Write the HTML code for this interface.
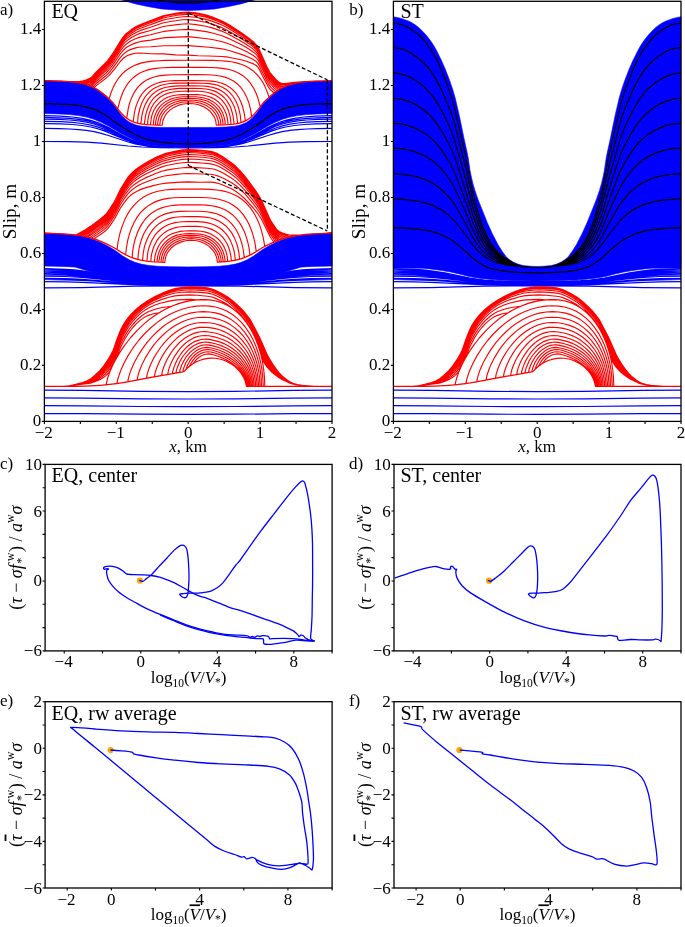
<!DOCTYPE html><html><head><meta charset="utf-8"><style>html,body{margin:0;padding:0;background:#fff;}</style></head><body><svg width="685" height="927" viewBox="0 0 685 927" style="display:block;will-change:transform;font-family:'Liberation Serif',serif">
<rect width="685" height="927" fill="#fff"/>
<path d="M44.4 413.6L82.9 413.7L141.8 414.2L188.2 414.3L234.6 414.2L293.5 413.7L332.0 413.6M44.4 405.7L82.9 405.9L141.8 406.5L188.2 406.6L234.6 406.5L293.5 405.9L332.0 405.7M44.4 397.9L82.9 398.1L141.8 398.9L188.2 399.0L234.6 398.9L293.5 398.1L332.0 397.9M44.4 390.1L82.9 390.3L141.8 391.4L188.2 391.6L234.6 391.4L293.5 390.3L332.0 390.1" fill="none" stroke="#0000ff" stroke-width="1.2" stroke-linejoin="round" />
<path d="M44.4 287.9L82.1 287.6L135.7 286.1L188.2 285.9L240.7 286.1L294.3 287.6L332.0 287.9M44.4 281.7L65.6 281.9L82.1 282.3L121.0 284.2L135.7 284.7L155.5 285.0L188.2 285.1L220.9 285.0L240.7 284.7L255.4 284.2L294.3 282.3L310.8 281.9L332.0 281.7M44.4 279.5L65.6 279.8L82.1 280.3L95.8 281.2L121.0 283.2L135.7 284.0L155.5 284.4L188.2 284.5L220.9 284.4L240.7 284.0L255.4 283.2L280.6 281.2L294.3 280.3L310.8 279.8L332.0 279.5M44.4 278.4L65.6 278.7L82.1 279.3L95.8 280.3L121.0 282.5L135.7 283.4L155.5 283.8L188.2 284.0L220.9 283.8L240.7 283.4L255.4 282.5L280.6 280.3L294.3 279.3L310.8 278.7L332.0 278.4M44.4 276.1L65.6 276.5L82.1 277.4L95.8 278.6L121.0 281.5L135.7 282.6L155.5 283.2L188.2 283.4L220.9 283.2L240.7 282.6L255.4 281.5L280.6 278.6L294.3 277.4L310.8 276.5L332.0 276.1M44.4 274.7L65.6 275.2L82.1 276.1L95.8 277.5L121.0 280.8L135.7 282.0L155.5 282.6L188.2 282.8L220.9 282.6L240.7 282.0L255.4 280.8L280.6 277.5L294.3 276.1L310.8 275.2L332.0 274.7M44.4 273.6L65.6 274.1L82.1 275.1L95.8 276.6L121.0 280.3L135.7 281.6L155.5 282.3L188.2 282.6L220.9 282.3L240.7 281.6L255.4 280.3L280.6 276.6L294.3 275.1L310.8 274.1L332.0 273.6M44.4 272.2L65.6 272.8L82.1 273.9L95.8 275.6L121.0 279.7L128.2 280.6L135.7 281.2L144.7 281.7L155.5 282.0L188.2 282.3L220.9 282.0L231.7 281.7L240.7 281.2L248.2 280.6L255.4 279.7L280.6 275.6L294.3 273.9L310.8 272.8L332.0 272.2M44.4 271.1L65.6 271.7L74.2 272.2L82.1 272.9L95.8 274.8L121.0 279.2L128.2 280.1L135.7 280.8L144.7 281.4L155.5 281.7L188.2 282.0L220.9 281.7L231.7 281.4L240.7 280.8L248.2 280.1L255.4 279.2L280.6 274.8L294.3 272.9L302.2 272.2L310.8 271.7L332.0 271.1M44.4 269.7L65.6 270.4L74.2 270.9L82.1 271.7L95.8 273.8L121.0 278.6L128.2 279.7L135.7 280.4L144.7 281.0L155.5 281.4L188.2 281.7L220.9 281.4L231.7 281.0L240.7 280.4L248.2 279.7L255.4 278.6L280.6 273.8L294.3 271.7L302.2 270.9L310.8 270.4L332.0 269.7M44.4 268.6L65.6 269.3L74.2 269.9L82.1 270.8L95.8 272.9L121.0 278.1L128.2 279.2L135.7 280.1L144.7 280.7L155.5 281.1L188.2 281.4L220.9 281.1L231.7 280.7L240.7 280.1L248.2 279.2L255.4 278.1L280.6 272.9L294.3 270.8L302.2 269.9L310.8 269.3L332.0 268.6" fill="none" stroke="#0000ff" stroke-width="1.2" stroke-linejoin="round" />
<path d="M44.4 386.4L76.4 386.4L95.1 385.7L108.8 384.5L118.1 383.4L124.9 382.3L150.8 377.4L183.9 371.7L186.8 368.6L189.6 366.1L192.9 363.8L196.5 361.7L200.1 360.2L204.0 359.1L208.0 358.4L211.9 358.1L215.2 358.3L218.0 358.7L220.9 359.3L223.8 360.2L226.7 361.4L229.5 362.9L232.1 364.5L234.6 366.4L236.7 368.3L238.9 370.5L240.7 372.8L242.5 375.5L243.9 378.1L245.0 380.7L245.7 383.0L246.4 386.4L332.0 386.4M44.4 386.4L80.0 386.3L96.2 385.6L106.2 384.8L117.4 383.5L124.9 382.3L150.8 377.4L183.9 371.7L188.6 367.0L193.2 363.5L196.1 359.8L199.0 357.2L201.1 355.9L203.7 354.7L205.8 354.2L208.3 353.9L210.8 354.1L213.4 354.7L218.0 356.2L222.4 357.9L225.9 359.6L229.2 361.5L232.4 363.6L235.3 365.9L237.8 368.2L240.3 370.9L242.1 373.3L243.9 376.2L245.0 378.4L246.1 381.4L246.4 382.9L246.8 386.4L332.0 386.4M44.4 386.4L80.0 386.3L96.2 385.6L106.2 384.8L117.4 383.5L124.9 382.3L150.8 377.4L183.9 371.7L186.8 368.6L189.6 366.0L191.1 363.2L192.9 360.4L195.0 357.8L197.2 355.8L199.7 354.1L202.6 352.7L205.1 352.0L208.0 351.7L210.8 352.0L214.1 352.8L218.4 354.2L222.7 356.0L226.3 357.7L229.5 359.6L232.8 361.9L235.7 364.2L238.2 366.6L240.7 369.5L242.5 372.0L244.3 374.9L245.4 377.2L246.4 380.2L247.2 383.4L247.5 386.4L332.0 386.4M44.4 386.4L80.0 386.3L96.2 385.6L106.2 384.8L117.4 383.5L124.9 382.3L150.8 377.4L183.9 371.7L186.0 369.4L187.5 365.3L190.0 360.7L192.2 357.7L194.7 355.0L197.5 352.7L200.8 350.9L204.0 349.9L207.6 349.5L210.5 349.8L214.4 350.8L218.8 352.2L222.7 353.8L226.3 355.5L229.9 357.7L233.1 360.0L236.0 362.4L238.5 364.8L241.0 367.7L243.2 370.7L245.0 373.9L246.4 377.1L247.5 380.6L247.9 382.3L248.2 386.4L332.0 386.4M44.4 386.4L80.0 386.3L96.2 385.6L106.2 384.8L117.4 383.5L124.9 382.3L150.8 377.4L182.8 371.9L183.2 369.8L183.9 367.4L186.0 362.5L188.9 357.9L192.2 354.1L195.7 351.1L199.3 349.0L202.9 347.8L206.9 347.4L210.1 347.7L214.4 348.7L218.8 350.0L223.1 351.7L226.7 353.5L230.3 355.6L233.5 357.9L236.7 360.7L239.2 363.2L241.8 366.2L243.9 369.3L245.7 372.5L247.2 375.7L248.2 379.1L249.0 382.6L249.3 386.4L332.0 386.4M44.4 386.4L79.6 386.3L95.8 385.7L105.5 384.9L117.4 383.5L124.9 382.3L150.5 377.5L179.6 372.4L179.9 370.3L180.7 367.8L181.7 365.0L183.2 361.9L186.0 357.2L189.6 352.8L193.6 349.4L197.5 347.0L199.7 346.0L201.9 345.4L204.0 345.0L206.2 344.9L209.4 345.1L214.1 346.1L218.8 347.5L223.1 349.2L227.0 351.1L230.6 353.3L233.9 355.6L237.1 358.4L240.0 361.3L242.5 364.4L245.0 368.1L246.8 371.5L248.2 374.9L249.3 378.5L250.0 382.2L250.4 386.4L332.0 386.4M44.4 386.4L79.6 386.3L95.8 385.7L105.2 384.9L117.0 383.5L124.6 382.4L150.5 377.5L176.0 373.1L176.3 370.8L177.4 367.2L179.9 361.4L181.7 358.2L183.5 355.5L187.5 350.8L189.6 348.7L191.8 347.0L194.0 345.6L196.5 344.2L198.6 343.4L201.1 342.6L203.3 342.3L205.8 342.1L209.1 342.4L214.4 343.5L218.8 344.7L223.1 346.4L227.0 348.3L231.0 350.7L234.6 353.3L237.8 356.1L240.7 359.2L243.6 362.8L246.1 366.7L247.9 370.2L249.3 373.8L250.4 377.4L251.1 381.1L251.5 384.7L251.8 386.4L332.0 386.4M44.4 386.4L79.3 386.3L95.4 385.7L104.4 385.0L117.0 383.5L124.6 382.4L150.1 377.6L172.4 373.7L172.7 371.4L173.8 367.6L175.3 363.9L176.7 360.8L178.5 357.5L180.7 354.2L182.8 351.4L185.0 348.9L187.1 346.8L189.6 344.7L192.2 343.0L194.7 341.6L197.2 340.6L200.1 339.7L202.6 339.3L205.5 339.1L209.1 339.4L214.8 340.6L219.5 341.9L223.8 343.6L227.7 345.6L231.7 348.0L235.3 350.7L238.9 354.0L241.8 357.2L244.6 361.0L247.2 365.1L249.0 368.7L250.8 373.5L251.8 377.6L252.6 382.1L252.9 386.4L332.0 386.4M44.4 386.4L79.3 386.3L95.4 385.7L103.7 385.0L116.7 383.6L124.2 382.5L149.7 377.6L167.7 374.5L168.4 370.6L169.5 367.1L170.9 363.5L172.7 359.7L174.9 355.8L177.1 352.6L179.6 349.2L182.1 346.4L184.6 344.0L187.5 341.6L190.0 339.9L192.9 338.3L195.7 337.1L198.6 336.2L201.5 335.7L204.7 335.5L208.7 335.8L214.4 336.9L219.1 338.2L223.8 340.0L228.1 342.1L232.1 344.6L236.0 347.6L239.6 351.0L242.5 354.3L245.4 358.1L247.9 362.3L250.0 366.8L251.8 371.7L252.9 375.7L253.6 379.7L254.3 386.4L332.0 386.4M44.4 386.4L78.9 386.3L95.1 385.7L103.0 385.1L116.7 383.6L123.8 382.5L161.6 375.5L162.3 371.6L163.4 368.0L165.2 363.5L167.3 359.0L169.9 354.6L172.4 350.8L175.3 347.1L178.1 344.0L181.0 341.2L184.2 338.6L187.5 336.5L190.7 334.8L194.0 333.4L197.5 332.4L200.8 331.8L204.4 331.6L209.1 332.0L214.8 333.0L219.5 334.3L224.1 336.1L228.5 338.3L232.8 341.1L236.7 344.2L240.3 347.7L243.9 351.9L246.8 356.1L249.3 360.6L251.5 365.4L253.3 370.7L254.3 375.1L255.1 379.6L255.8 386.4L332.0 386.4M44.4 386.4L78.2 386.4L91.9 385.9L101.6 385.2L113.1 384.0L123.1 382.6L154.4 376.8L155.1 372.8L156.6 368.2L158.4 363.7L160.9 358.5L163.8 353.6L166.6 349.3L169.9 345.2L173.5 341.3L176.7 338.3L180.3 335.4L183.9 333.0L187.8 330.9L191.8 329.3L195.7 328.1L199.7 327.4L203.7 327.2L209.1 327.6L214.4 328.4L219.5 329.8L224.1 331.6L228.8 334.0L233.1 336.8L237.1 340.0L241.0 343.9L244.3 347.8L247.5 352.5L250.4 357.8L252.6 362.7L254.3 368.1L255.8 374.2L256.5 379.0L257.2 386.4L332.0 386.4M44.4 386.4L77.8 386.4L89.0 386.0L100.1 385.4L110.2 384.3L121.7 382.9L130.7 381.3L146.5 378.2L147.2 374.2L149.0 368.5L151.2 363.3L154.0 357.6L157.3 352.2L160.5 347.5L164.5 342.6L168.4 338.4L172.4 334.8L176.7 331.5L181.0 328.7L185.3 326.5L189.6 324.8L194.3 323.5L198.6 322.8L203.3 322.5L209.1 322.8L214.8 323.7L219.8 325.1L224.9 327.1L229.5 329.5L234.2 332.7L238.2 336.1L242.1 340.2L245.7 344.8L249.0 349.8L251.8 355.5L254.0 360.8L255.8 366.5L257.2 373.0L257.9 378.0L258.7 386.4L332.0 386.4M44.4 386.4L77.1 386.4L98.0 385.5L107.0 384.7L118.8 383.3L126.7 382.0L137.2 380.1L137.5 377.6L138.2 374.7L140.0 369.3L142.5 363.4L145.8 357.1L149.4 351.2L153.7 345.2L158.0 340.0L162.7 335.2L167.3 331.1L172.4 327.3L177.4 324.2L182.4 321.7L187.5 319.8L192.9 318.3L197.9 317.5L203.3 317.2L209.4 317.5L214.8 318.4L220.2 319.8L225.2 321.8L230.3 324.6L234.9 327.9L239.2 331.7L243.2 336.0L246.8 340.8L250.0 346.1L252.9 352.0L255.4 358.5L257.2 364.6L258.7 371.3L259.4 376.4L260.1 386.4L332.0 386.4M44.4 386.4L76.8 386.4L95.8 385.7L103.0 385.1L112.0 384.1L119.9 383.1L127.8 381.8L128.2 379.4L128.9 376.4L131.0 369.9L134.3 362.6L137.9 355.9L142.2 349.1L146.9 342.7L151.9 336.9L157.3 331.5L162.7 326.8L168.1 322.9L173.8 319.5L179.6 316.7L185.3 314.5L191.4 312.9L197.2 312.0L203.3 311.6L209.8 312.0L215.5 312.9L220.9 314.4L226.3 316.7L231.3 319.6L236.0 323.1L240.3 327.2L244.6 332.2L248.6 337.9L251.8 343.6L254.7 350.0L257.2 357.1L259.0 363.9L260.5 371.7L261.2 378.1L261.5 386.4L332.0 386.4M44.4 386.4L74.6 386.4L85.4 386.1L100.5 385.3L117.0 383.5L117.4 381.0L118.1 378.1L120.6 370.7L124.2 362.7L128.5 354.9L133.2 347.7L138.6 340.5L144.3 334.0L150.5 328.0L156.6 322.9L163.0 318.3L169.5 314.5L176.0 311.5L182.8 309.0L189.6 307.2L196.5 306.1L203.3 305.8L209.8 306.1L215.5 307.0L221.3 308.7L226.7 311.0L231.7 314.0L236.7 317.9L241.4 322.4L245.7 327.7L249.7 333.6L252.9 339.6L255.8 346.1L258.3 353.3L260.5 361.6L261.9 369.4L262.6 375.5L263.3 386.4L332.0 386.4M44.4 386.4L80.0 386.3L96.2 385.6L106.2 384.8L106.6 382.3L107.7 378.0L110.5 370.1L114.5 361.6L119.2 353.4L124.6 345.4L130.7 337.5L137.2 330.4L144.0 323.9L150.8 318.3L158.0 313.4L165.2 309.3L172.7 305.8L180.3 303.1L187.8 301.2L195.4 300.0L203.3 299.6L209.8 299.9L215.9 301.0L221.6 302.7L227.4 305.3L232.8 308.7L237.8 312.8L242.5 317.6L246.8 323.1L250.8 329.2L254.3 336.1L257.6 344.0L260.1 351.7L262.3 360.7L263.7 369.5L264.4 376.6L264.8 386.4L332.0 386.4M44.4 386.4L63.1 386.4L69.2 385.9L90.1 383.1L95.4 381.4L100.8 379.1L103.4 377.6L105.9 375.6L108.0 373.5L110.2 370.9L112.7 365.3L115.6 359.6L121.0 346.5L125.6 337.8L129.2 332.2L132.8 327.5L136.4 323.6L140.4 320.1L144.0 317.6L147.9 315.6L153.3 313.8L159.1 312.7L163.8 310.0L168.8 307.5L173.5 305.5L178.5 303.6L184.6 301.9L190.7 300.7L196.8 299.9L203.3 299.6L208.7 299.8L213.7 300.5L218.8 301.7L223.4 303.4L228.1 305.7L232.4 308.4L236.4 311.5L240.3 315.2L243.9 319.3L247.2 323.6L250.0 328.0L252.9 333.2L255.4 338.5L257.9 345.0L260.1 351.7L261.9 358.8L265.1 364.2L267.3 367.3L270.9 371.2L273.8 373.8L278.8 377.5L282.0 379.5L289.6 383.1L292.5 384.0L297.1 384.9L302.5 385.6L312.9 386.3L332.0 386.4M44.4 386.4L63.5 386.4L69.9 385.8L83.2 383.8L89.3 382.7L93.3 381.3L99.0 378.6L102.3 376.5L105.2 374.2L108.0 371.2L110.5 367.9L112.3 364.9L113.8 361.9L116.7 353.8L120.6 344.1L122.8 339.7L125.6 334.6L129.2 329.0L133.2 324.0L137.2 319.7L141.5 316.0L144.7 313.8L148.3 311.8L152.2 310.2L156.9 308.7L162.3 307.5L171.7 306.2L179.9 303.2L188.2 301.1L195.7 300.0L203.3 299.6L208.7 299.8L213.7 300.5L218.4 301.6L223.1 303.3L227.7 305.5L232.1 308.2L236.0 311.2L240.0 314.9L243.2 318.4L246.4 322.6L249.3 326.8L252.2 331.8L254.7 336.9L257.2 343.0L259.0 348.2L260.8 354.4L266.2 363.9L269.1 367.8L272.3 371.4L276.6 375.2L280.2 377.9L286.3 381.3L290.3 383.2L292.8 384.0L298.2 385.0L302.9 385.6L313.3 386.3L332.0 386.4M44.4 386.4L63.5 386.4L67.0 386.1L71.0 385.6L82.9 383.6L89.0 382.2L92.6 380.8L98.0 377.8L101.2 375.6L104.4 372.8L107.7 369.3L110.2 365.9L112.0 362.9L113.4 360.0L116.7 350.8L119.9 342.7L122.1 337.9L124.9 332.6L128.5 326.9L132.1 322.1L136.1 317.6L140.0 313.9L144.3 310.6L149.0 307.8L154.4 305.3L160.2 303.3L169.1 301.1L174.5 300.1L177.4 299.9L189.6 299.4L196.8 299.9L202.6 299.6L208.0 299.8L212.6 300.3L217.0 301.2L222.0 302.8L227.0 305.1L231.7 307.9L236.4 311.5L240.0 314.9L243.6 318.8L246.8 323.1L250.0 328.0L252.6 332.5L255.1 337.7L257.2 343.0L259.4 349.1L265.5 360.5L267.6 364.0L270.5 367.9L273.4 371.1L278.4 375.8L282.4 378.7L287.8 381.8L291.0 383.3L293.9 384.1L299.3 385.2L303.2 385.6L313.7 386.3L332.0 386.4M44.4 386.4L63.5 386.4L69.9 385.7L81.4 383.7L86.5 382.5L90.8 381.0L95.1 378.6L99.0 375.9L102.6 372.9L106.2 369.1L109.5 364.9L111.6 361.3L113.4 357.7L116.7 348.3L119.5 340.9L121.7 336.1L124.6 330.7L127.8 325.4L131.4 320.5L135.4 316.0L139.7 311.8L144.3 308.1L149.0 305.1L155.1 302.0L161.2 299.6L169.9 297.0L174.9 295.9L179.9 295.4L189.6 294.9L197.2 295.3L207.6 296.2L210.8 296.8L214.4 297.9L219.8 300.2L225.9 303.5L228.8 305.5L237.5 312.5L240.7 315.6L243.9 319.3L246.8 323.1L249.7 327.4L252.9 333.2L256.5 341.1L261.5 350.5L265.9 359.2L269.4 364.9L272.7 369.1L277.0 373.7L280.6 376.9L284.2 379.4L288.1 381.8L291.4 383.3L295.0 384.3L300.0 385.2L306.1 385.9L314.0 386.3L332.0 386.4M44.4 386.4L63.1 386.4L69.6 385.8L80.7 383.6L84.3 382.8L89.3 381.1L93.3 378.9L98.3 375.3L101.9 372.1L105.5 368.2L109.1 363.4L111.3 359.9L113.4 355.5L116.7 346.0L119.2 339.5L121.3 334.5L123.8 329.7L127.1 324.3L130.3 319.9L134.3 315.2L138.6 311.0L143.6 306.8L148.7 303.4L154.8 300.1L161.2 297.3L170.2 294.3L175.3 293.0L182.1 292.3L189.6 291.9L196.8 292.1L205.8 292.9L209.4 293.4L212.6 294.3L218.0 296.5L224.9 300.2L228.5 302.6L232.1 305.6L236.4 309.9L241.4 315.5L245.7 320.9L249.7 326.5L252.6 331.4L258.7 342.7L261.9 349.0L266.2 358.1L268.4 361.8L270.9 365.6L274.1 369.7L278.8 374.7L281.7 377.2L285.6 380.0L289.2 382.1L292.1 383.4L296.4 384.5L300.7 385.3L314.0 386.3L332.0 386.4M44.4 386.4L63.1 386.4L69.2 385.8L80.3 383.6L83.6 382.8L89.0 380.8L92.2 379.0L97.6 375.0L101.2 371.7L105.2 367.2L108.8 362.3L111.3 358.1L113.4 353.7L116.7 344.1L119.2 337.6L121.3 332.6L123.5 328.5L126.7 323.2L130.0 318.7L133.6 314.5L137.9 310.3L143.3 305.8L148.7 302.2L155.5 298.4L162.0 295.5L170.6 292.4L175.6 291.1L183.5 290.2L190.7 289.8L198.3 290.1L207.3 291.0L210.1 291.5L213.0 292.4L218.4 294.7L225.6 298.7L229.5 301.6L233.5 305.0L238.5 310.2L242.5 314.6L246.4 319.6L250.0 324.7L252.9 329.7L258.7 340.6L261.9 347.1L266.6 357.2L269.1 361.5L271.6 365.4L275.2 370.0L279.2 374.4L282.0 377.0L286.3 380.2L289.6 382.2L292.1 383.3L296.4 384.5L301.1 385.3L307.9 386.0L314.4 386.4L332.0 386.4M44.4 386.4L63.1 386.4L69.2 385.8L75.0 384.7L82.9 382.8L87.9 380.9L91.5 379.0L95.8 375.7L100.5 371.4L104.4 366.9L108.4 361.5L110.9 357.3L113.4 352.1L116.3 343.6L118.8 336.9L121.0 331.8L123.1 327.6L126.0 322.8L129.2 318.3L132.8 314.1L137.2 309.9L142.9 305.1L148.7 301.2L155.8 297.2L162.7 294.1L170.9 291.0L176.0 289.6L184.6 288.6L191.4 288.3L198.6 288.6L207.3 289.4L210.1 290.0L213.4 291.0L218.8 293.5L225.9 297.5L229.9 300.4L234.6 304.6L239.6 309.7L243.2 313.7L247.2 318.7L250.4 323.4L253.3 328.5L259.0 339.5L261.9 345.5L266.6 355.9L269.4 361.0L272.0 364.9L275.9 370.2L279.5 374.3L282.0 376.6L286.7 380.2L289.9 382.2L292.5 383.3L297.1 384.6L301.4 385.4L314.4 386.4L332.0 386.4M44.4 386.4L63.1 386.3L69.2 385.8L75.0 384.6L82.5 382.8L87.5 380.9L91.1 378.9L95.4 375.5L100.5 370.7L104.4 366.0L108.4 360.4L111.3 355.5L113.4 351.0L116.3 342.4L118.5 336.6L120.6 331.4L122.8 327.1L125.6 322.3L128.5 318.3L132.1 314.1L136.1 310.2L141.8 305.4L147.9 301.1L155.5 296.8L162.3 293.6L170.6 290.5L175.6 289.0L183.9 287.9L191.4 287.5L198.6 287.8L207.3 288.7L210.5 289.3L213.7 290.4L219.5 293.1L226.7 297.2L231.0 300.5L236.0 305.0L240.7 309.8L244.3 313.8L247.9 318.4L250.8 322.7L253.6 327.8L259.0 338.3L261.9 344.3L266.6 354.9L269.4 360.1L272.3 364.7L276.3 370.1L279.9 374.3L282.4 376.7L287.1 380.3L289.9 382.1L292.5 383.3L297.1 384.5L301.4 385.3L314.4 386.4L332.0 386.4M44.4 386.4L63.1 386.3L69.2 385.7L75.3 384.5L82.5 382.7L87.2 380.9L90.8 378.9L94.7 375.8L99.8 370.9L103.7 366.3L108.0 360.2L110.5 356.0L113.1 350.9L114.1 348.1L116.3 341.5L118.5 335.7L120.6 330.6L122.4 327.0L125.3 322.1L128.2 318.1L131.4 314.3L135.4 310.3L141.5 305.3L147.6 301.0L155.5 296.5L162.7 293.1L170.9 289.9L176.0 288.5L184.6 287.4L191.8 287.0L199.0 287.3L207.6 288.2L211.2 289.0L214.8 290.3L220.9 293.3L227.7 297.4L232.8 301.3L238.9 307.0L242.5 310.7L246.1 314.9L249.3 319.3L251.5 322.7L259.4 337.8L266.6 353.9L269.4 359.3L272.3 364.1L276.3 369.6L279.9 373.9L282.4 376.4L287.4 380.4L290.3 382.2L292.8 383.3L297.5 384.6L301.8 385.4L314.4 386.4L332.0 386.4M44.4 386.4L63.1 386.3L69.6 385.7L75.7 384.4L82.5 382.6L87.2 380.8L90.8 378.7L94.7 375.5L99.8 370.6L103.7 365.8L108.0 359.7L110.5 355.4L113.1 350.3L114.1 347.6L116.3 340.9L118.5 335.2L120.6 330.0L122.4 326.4L125.3 321.6L128.2 317.6L131.4 313.9L135.0 310.3L141.1 305.3L147.6 300.8L155.5 296.3L162.7 292.9L170.9 289.7L176.0 288.2L184.6 287.1L191.8 286.8L199.0 287.1L207.6 287.9L211.2 288.7L214.8 290.1L221.3 293.3L225.6 295.7L228.1 297.3L233.5 301.5L240.0 307.5L243.6 311.2L246.8 315.0L249.7 318.9L251.8 322.4L259.4 336.9L266.9 353.9L269.8 359.4L272.7 364.1L276.6 369.7L280.2 374.0L283.1 376.8L287.8 380.5L290.3 382.1L292.8 383.3L297.5 384.6L301.8 385.4L314.4 386.4L332.0 386.4" fill="none" stroke="#ff0000" stroke-width="1.15" stroke-linejoin="round" />
<path d="M393.4 413.6L431.9 413.7L490.8 414.2L537.2 414.3L583.6 414.2L642.5 413.7L681.0 413.6M393.4 405.7L431.9 405.9L490.8 406.5L537.2 406.6L583.6 406.5L642.5 405.9L681.0 405.7M393.4 397.9L431.9 398.1L490.8 398.9L537.2 399.0L583.6 398.9L642.5 398.1L681.0 397.9M393.4 390.1L431.9 390.3L490.8 391.4L537.2 391.6L583.6 391.4L642.5 390.3L681.0 390.1" fill="none" stroke="#0000ff" stroke-width="1.2" stroke-linejoin="round" />
<path d="M393.4 287.9L431.1 287.6L484.7 286.1L537.2 285.9L589.7 286.1L643.3 287.6L681.0 287.9M393.4 281.7L414.6 281.9L431.1 282.3L470.0 284.2L484.7 284.7L504.5 285.0L537.2 285.1L569.9 285.0L589.7 284.7L604.4 284.2L643.3 282.3L659.8 281.9L681.0 281.7M393.4 279.5L414.6 279.8L431.1 280.3L444.8 281.2L470.0 283.2L484.7 284.0L504.5 284.4L537.2 284.5L569.9 284.4L589.7 284.0L604.4 283.2L629.6 281.2L643.3 280.3L659.8 279.8L681.0 279.5M393.4 278.4L414.6 278.7L431.1 279.3L444.8 280.3L470.0 282.5L484.7 283.4L504.5 283.8L537.2 284.0L569.9 283.8L589.7 283.4L604.4 282.5L629.6 280.3L643.3 279.3L659.8 278.7L681.0 278.4M393.4 276.1L414.6 276.5L431.1 277.4L444.8 278.6L470.0 281.5L484.7 282.6L504.5 283.2L537.2 283.4L569.9 283.2L589.7 282.6L604.4 281.5L629.6 278.6L643.3 277.4L659.8 276.5L681.0 276.1M393.4 274.7L414.6 275.2L431.1 276.1L444.8 277.5L470.0 280.8L484.7 282.0L504.5 282.6L537.2 282.8L569.9 282.6L589.7 282.0L604.4 280.8L629.6 277.5L643.3 276.1L659.8 275.2L681.0 274.7M393.4 273.6L414.6 274.1L431.1 275.1L444.8 276.6L470.0 280.3L484.7 281.6L504.5 282.3L537.2 282.6L569.9 282.3L589.7 281.6L604.4 280.3L629.6 276.6L643.3 275.1L659.8 274.1L681.0 273.6M393.4 272.2L414.6 272.8L431.1 273.9L444.8 275.6L470.0 279.7L477.2 280.6L484.7 281.2L493.7 281.7L504.5 282.0L537.2 282.3L569.9 282.0L580.7 281.7L589.7 281.2L597.2 280.6L604.4 279.7L629.6 275.6L643.3 273.9L659.8 272.8L681.0 272.2M393.4 271.1L414.6 271.7L423.2 272.2L431.1 272.9L444.8 274.8L470.0 279.2L477.2 280.1L484.7 280.8L493.7 281.4L504.5 281.7L537.2 282.0L569.9 281.7L580.7 281.4L589.7 280.8L597.2 280.1L604.4 279.2L629.6 274.8L643.3 272.9L651.2 272.2L659.8 271.7L681.0 271.1M393.4 269.7L414.6 270.4L423.2 270.9L431.1 271.7L444.8 273.8L470.0 278.6L477.2 279.7L484.7 280.4L493.7 281.0L504.5 281.4L537.2 281.7L569.9 281.4L580.7 281.0L589.7 280.4L597.2 279.7L604.4 278.6L629.6 273.8L643.3 271.7L651.2 270.9L659.8 270.4L681.0 269.7M393.4 268.6L414.6 269.3L423.2 269.9L431.1 270.8L444.8 272.9L470.0 278.1L477.2 279.2L484.7 280.1L493.7 280.7L504.5 281.1L537.2 281.4L569.9 281.1L580.7 280.7L589.7 280.1L597.2 279.2L604.4 278.1L629.6 272.9L643.3 270.8L651.2 269.9L659.8 269.3L681.0 268.6" fill="none" stroke="#0000ff" stroke-width="1.2" stroke-linejoin="round" />
<path d="M393.4 386.4L425.4 386.4L444.1 385.7L457.8 384.5L467.1 383.4L473.9 382.3L499.8 377.4L532.9 371.7L535.8 368.6L538.6 366.1L541.9 363.8L545.5 361.7L549.1 360.2L553.0 359.1L557.0 358.4L560.9 358.1L564.2 358.3L567.0 358.7L569.9 359.3L572.8 360.2L575.7 361.4L578.5 362.9L581.1 364.5L583.6 366.4L585.7 368.3L587.9 370.5L589.7 372.8L591.5 375.5L592.9 378.1L594.0 380.7L594.7 383.0L595.4 386.4L681.0 386.4M393.4 386.4L429.0 386.3L445.2 385.6L455.2 384.8L466.4 383.5L473.9 382.3L499.8 377.4L532.9 371.7L537.6 367.0L542.2 363.5L545.1 359.8L548.0 357.2L550.1 355.9L552.7 354.7L554.8 354.2L557.3 353.9L559.8 354.1L562.4 354.7L567.0 356.2L571.4 357.9L574.9 359.6L578.2 361.5L581.4 363.6L584.3 365.9L586.8 368.2L589.3 370.9L591.1 373.3L592.9 376.2L594.0 378.4L595.1 381.4L595.4 382.9L595.8 386.4L681.0 386.4M393.4 386.4L429.0 386.3L445.2 385.6L455.2 384.8L466.4 383.5L473.9 382.3L499.8 377.4L532.9 371.7L535.8 368.6L538.6 366.0L540.1 363.2L541.9 360.4L544.0 357.8L546.2 355.8L548.7 354.1L551.6 352.7L554.1 352.0L557.0 351.7L559.8 352.0L563.1 352.8L567.4 354.2L571.7 356.0L575.3 357.7L578.5 359.6L581.8 361.9L584.7 364.2L587.2 366.6L589.7 369.5L591.5 372.0L593.3 374.9L594.4 377.2L595.4 380.2L596.2 383.4L596.5 386.4L681.0 386.4M393.4 386.4L429.0 386.3L445.2 385.6L455.2 384.8L466.4 383.5L473.9 382.3L499.8 377.4L532.9 371.7L535.0 369.4L536.5 365.3L539.0 360.7L541.2 357.7L543.7 355.0L546.5 352.7L549.8 350.9L553.0 349.9L556.6 349.5L559.5 349.8L563.4 350.8L567.8 352.2L571.7 353.8L575.3 355.5L578.9 357.7L582.1 360.0L585.0 362.4L587.5 364.8L590.0 367.7L592.2 370.7L594.0 373.9L595.4 377.1L596.5 380.6L596.9 382.3L597.2 386.4L681.0 386.4M393.4 386.4L429.0 386.3L445.2 385.6L455.2 384.8L466.4 383.5L473.9 382.3L499.8 377.4L531.8 371.9L532.2 369.8L532.9 367.4L535.0 362.5L537.9 357.9L541.2 354.1L544.7 351.1L548.3 349.0L551.9 347.8L555.9 347.4L559.1 347.7L563.4 348.7L567.8 350.0L572.1 351.7L575.7 353.5L579.3 355.6L582.5 357.9L585.7 360.7L588.2 363.2L590.8 366.2L592.9 369.3L594.7 372.5L596.2 375.7L597.2 379.1L598.0 382.6L598.3 386.4L681.0 386.4M393.4 386.4L428.6 386.3L444.8 385.7L454.5 384.9L466.4 383.5L473.9 382.3L499.5 377.5L528.6 372.4L528.9 370.3L529.7 367.8L530.7 365.0L532.2 361.9L535.0 357.2L538.6 352.8L542.6 349.4L546.5 347.0L548.7 346.0L550.9 345.4L553.0 345.0L555.2 344.9L558.4 345.1L563.1 346.1L567.8 347.5L572.1 349.2L576.0 351.1L579.6 353.3L582.9 355.6L586.1 358.4L589.0 361.3L591.5 364.4L594.0 368.1L595.8 371.5L597.2 374.9L598.3 378.5L599.0 382.2L599.4 386.4L681.0 386.4M393.4 386.4L428.6 386.3L444.8 385.7L454.2 384.9L466.0 383.5L473.6 382.4L499.5 377.5L525.0 373.1L525.3 370.8L526.4 367.2L528.9 361.4L530.7 358.2L532.5 355.5L536.5 350.8L538.6 348.7L540.8 347.0L543.0 345.6L545.5 344.2L547.6 343.4L550.1 342.6L552.3 342.3L554.8 342.1L558.1 342.4L563.4 343.5L567.8 344.7L572.1 346.4L576.0 348.3L580.0 350.7L583.6 353.3L586.8 356.1L589.7 359.2L592.6 362.8L595.1 366.7L596.9 370.2L598.3 373.8L599.4 377.4L600.1 381.1L600.5 384.7L600.8 386.4L681.0 386.4M393.4 386.4L428.3 386.3L444.4 385.7L453.4 385.0L466.0 383.5L473.6 382.4L499.1 377.6L521.4 373.7L521.7 371.4L522.8 367.6L524.3 363.9L525.7 360.8L527.5 357.5L529.7 354.2L531.8 351.4L534.0 348.9L536.1 346.8L538.6 344.7L541.2 343.0L543.7 341.6L546.2 340.6L549.1 339.7L551.6 339.3L554.5 339.1L558.1 339.4L563.8 340.6L568.5 341.9L572.8 343.6L576.7 345.6L580.7 348.0L584.3 350.7L587.9 354.0L590.8 357.2L593.6 361.0L596.2 365.1L598.0 368.7L599.8 373.5L600.8 377.6L601.6 382.1L601.9 386.4L681.0 386.4M393.4 386.4L428.3 386.3L444.4 385.7L452.7 385.0L465.7 383.6L473.2 382.5L498.7 377.6L516.7 374.5L517.4 370.6L518.5 367.1L519.9 363.5L521.7 359.7L523.9 355.8L526.1 352.6L528.6 349.2L531.1 346.4L533.6 344.0L536.5 341.6L539.0 339.9L541.9 338.3L544.7 337.1L547.6 336.2L550.5 335.7L553.7 335.5L557.7 335.8L563.4 336.9L568.1 338.2L572.8 340.0L577.1 342.1L581.1 344.6L585.0 347.6L588.6 351.0L591.5 354.3L594.4 358.1L596.9 362.3L599.0 366.8L600.8 371.7L601.9 375.7L602.6 379.7L603.3 386.4L681.0 386.4M393.4 386.4L427.9 386.3L444.1 385.7L452.0 385.1L465.7 383.6L472.8 382.5L510.6 375.5L511.3 371.6L512.4 368.0L514.2 363.5L516.3 359.0L518.9 354.6L521.4 350.8L524.3 347.1L527.1 344.0L530.0 341.2L533.2 338.6L536.5 336.5L539.7 334.8L543.0 333.4L546.5 332.4L549.8 331.8L553.4 331.6L558.1 332.0L563.8 333.0L568.5 334.3L573.2 336.1L577.5 338.3L581.8 341.1L585.7 344.2L589.3 347.7L592.9 351.9L595.8 356.1L598.3 360.6L600.5 365.4L602.3 370.7L603.3 375.1L604.1 379.6L604.8 386.4L681.0 386.4M393.4 386.4L427.2 386.4L440.9 385.9L450.6 385.2L462.1 384.0L472.1 382.6L503.4 376.8L504.1 372.8L505.6 368.2L507.4 363.7L509.9 358.5L512.8 353.6L515.6 349.3L518.9 345.2L522.5 341.3L525.7 338.3L529.3 335.4L532.9 333.0L536.8 330.9L540.8 329.3L544.7 328.1L548.7 327.4L552.7 327.2L558.1 327.6L563.4 328.4L568.5 329.8L573.2 331.6L577.8 334.0L582.1 336.8L586.1 340.0L590.0 343.9L593.3 347.8L596.5 352.5L599.4 357.8L601.6 362.7L603.3 368.1L604.8 374.2L605.5 379.0L606.2 386.4L681.0 386.4M393.4 386.4L426.8 386.4L438.0 386.0L449.1 385.4L459.2 384.3L470.7 382.9L479.7 381.3L495.5 378.2L496.2 374.2L498.0 368.5L500.2 363.3L503.0 357.6L506.3 352.2L509.5 347.5L513.5 342.6L517.4 338.4L521.4 334.8L525.7 331.5L530.0 328.7L534.3 326.5L538.6 324.8L543.3 323.5L547.6 322.8L552.3 322.5L558.1 322.8L563.8 323.7L568.8 325.1L573.9 327.1L578.5 329.5L583.2 332.7L587.2 336.1L591.1 340.2L594.7 344.8L598.0 349.8L600.8 355.5L603.0 360.8L604.8 366.5L606.2 373.0L606.9 378.0L607.7 386.4L681.0 386.4M393.4 386.4L426.1 386.4L447.0 385.5L456.0 384.7L467.8 383.3L475.7 382.0L486.2 380.1L486.5 377.6L487.2 374.7L489.0 369.3L491.5 363.4L494.8 357.1L498.4 351.2L502.7 345.2L507.0 340.0L511.7 335.2L516.3 331.1L521.4 327.3L526.4 324.2L531.4 321.7L536.5 319.8L541.9 318.3L546.9 317.5L552.3 317.2L558.4 317.5L563.8 318.4L569.2 319.8L574.2 321.8L579.3 324.6L583.9 327.9L588.2 331.7L592.2 336.0L595.8 340.8L599.0 346.1L601.9 352.0L604.4 358.5L606.2 364.6L607.7 371.3L608.4 376.4L609.1 386.4L681.0 386.4M393.4 386.4L425.8 386.4L444.8 385.7L452.0 385.1L461.0 384.1L468.9 383.1L476.8 381.8L477.2 379.4L477.9 376.4L480.0 369.9L483.3 362.6L486.9 355.9L491.2 349.1L495.9 342.7L500.9 336.9L506.3 331.5L511.7 326.8L517.1 322.9L522.8 319.5L528.6 316.7L534.3 314.5L540.4 312.9L546.2 312.0L552.3 311.6L558.8 312.0L564.5 312.9L569.9 314.4L575.3 316.7L580.3 319.6L585.0 323.1L589.3 327.2L593.6 332.2L597.6 337.9L600.8 343.6L603.7 350.0L606.2 357.1L608.0 363.9L609.5 371.7L610.2 378.1L610.5 386.4L681.0 386.4M393.4 386.4L423.6 386.4L434.4 386.1L449.5 385.3L466.0 383.5L466.4 381.0L467.1 378.1L469.6 370.7L473.2 362.7L477.5 354.9L482.2 347.7L487.6 340.5L493.3 334.0L499.5 328.0L505.6 322.9L512.0 318.3L518.5 314.5L525.0 311.5L531.8 309.0L538.6 307.2L545.5 306.1L552.3 305.8L558.8 306.1L564.5 307.0L570.3 308.7L575.7 311.0L580.7 314.0L585.7 317.9L590.4 322.4L594.7 327.7L598.7 333.6L601.9 339.6L604.8 346.1L607.3 353.3L609.5 361.6L610.9 369.4L611.6 375.5L612.3 386.4L681.0 386.4M393.4 386.4L429.0 386.3L445.2 385.6L455.2 384.8L455.6 382.3L456.7 378.0L459.5 370.1L463.5 361.6L468.2 353.4L473.6 345.4L479.7 337.5L486.2 330.4L493.0 323.9L499.8 318.3L507.0 313.4L514.2 309.3L521.7 305.8L529.3 303.1L536.8 301.2L544.4 300.0L552.3 299.6L558.8 299.9L564.9 301.0L570.6 302.7L576.4 305.3L581.8 308.7L586.8 312.8L591.5 317.6L595.8 323.1L599.8 329.2L603.3 336.1L606.6 344.0L609.1 351.7L611.3 360.7L612.7 369.5L613.4 376.6L613.8 386.4L681.0 386.4M393.4 386.4L412.1 386.4L418.2 385.9L439.1 383.1L444.4 381.4L449.8 379.1L452.4 377.6L454.9 375.6L457.0 373.5L459.2 370.9L461.7 365.3L464.6 359.6L470.0 346.5L474.6 337.8L478.2 332.2L481.8 327.5L485.4 323.6L489.4 320.1L493.0 317.6L496.9 315.6L502.3 313.8L508.1 312.7L512.8 310.0L517.8 307.5L522.5 305.5L527.5 303.6L533.6 301.9L539.7 300.7L545.8 299.9L552.3 299.6L557.7 299.8L562.7 300.5L567.8 301.7L572.4 303.4L577.1 305.7L581.4 308.4L585.4 311.5L589.3 315.2L592.9 319.3L596.2 323.6L599.0 328.0L601.9 333.2L604.4 338.5L606.9 345.0L609.1 351.7L610.9 358.8L614.1 364.2L616.3 367.3L619.9 371.2L622.8 373.8L627.8 377.5L631.0 379.5L638.6 383.1L641.5 384.0L646.1 384.9L651.5 385.6L661.9 386.3L681.0 386.4M393.4 386.4L412.5 386.4L418.9 385.8L432.2 383.8L438.3 382.7L442.3 381.3L448.0 378.6L451.3 376.5L454.2 374.2L457.0 371.2L459.5 367.9L461.3 364.9L462.8 361.9L465.7 353.8L469.6 344.1L471.8 339.7L474.6 334.6L478.2 329.0L482.2 324.0L486.2 319.7L490.5 316.0L493.7 313.8L497.3 311.8L501.3 310.2L505.9 308.7L511.3 307.5L520.7 306.2L528.9 303.2L537.2 301.1L544.7 300.0L552.3 299.6L557.7 299.8L562.7 300.5L567.4 301.6L572.1 303.3L576.7 305.5L581.1 308.2L585.0 311.2L589.0 314.9L592.2 318.4L595.4 322.6L598.3 326.8L601.2 331.8L603.7 336.9L606.2 343.0L608.0 348.2L609.8 354.4L615.2 363.9L618.1 367.8L621.3 371.4L625.6 375.2L629.2 377.9L635.3 381.3L639.3 383.2L641.8 384.0L647.2 385.0L651.9 385.6L662.3 386.3L681.0 386.4M393.4 386.4L412.5 386.4L416.0 386.1L420.0 385.6L431.9 383.6L438.0 382.2L441.6 380.8L447.0 377.8L450.2 375.6L453.4 372.8L456.7 369.3L459.2 365.9L461.0 362.9L462.4 360.0L465.7 350.8L468.9 342.7L471.1 337.9L473.9 332.6L477.5 326.9L481.1 322.1L485.1 317.6L489.0 313.9L493.3 310.6L498.0 307.8L503.4 305.3L509.2 303.3L518.1 301.1L523.5 300.1L526.4 299.9L538.6 299.4L545.8 299.9L551.6 299.6L557.0 299.8L561.6 300.3L566.0 301.2L571.0 302.8L576.0 305.1L580.7 307.9L585.4 311.5L589.0 314.9L592.6 318.8L595.8 323.1L599.0 328.0L601.6 332.5L604.1 337.7L606.2 343.0L608.4 349.1L614.5 360.5L616.6 364.0L619.5 367.9L622.4 371.1L627.4 375.8L631.4 378.7L636.8 381.8L640.0 383.3L642.9 384.1L648.3 385.2L652.2 385.6L662.7 386.3L681.0 386.4M393.4 386.4L412.5 386.4L418.9 385.7L430.4 383.7L435.5 382.5L439.8 381.0L444.1 378.6L448.0 375.9L451.6 372.9L455.2 369.1L458.5 364.9L460.6 361.3L462.4 357.7L465.7 348.3L468.5 340.9L470.7 336.1L473.6 330.7L476.8 325.4L480.4 320.5L484.4 316.0L488.7 311.8L493.3 308.1L498.0 305.1L504.1 302.0L510.2 299.6L518.9 297.0L523.9 295.9L528.9 295.4L538.6 294.9L546.2 295.3L556.6 296.2L559.8 296.8L563.4 297.9L568.8 300.2L574.9 303.5L577.8 305.5L586.5 312.5L589.7 315.6L592.9 319.3L595.8 323.1L598.7 327.4L601.9 333.2L605.5 341.1L610.5 350.5L614.9 359.2L618.4 364.9L621.7 369.1L626.0 373.7L629.6 376.9L633.2 379.4L637.1 381.8L640.4 383.3L644.0 384.3L649.0 385.2L655.1 385.9L663.0 386.3L681.0 386.4M393.4 386.4L412.1 386.4L418.6 385.8L429.7 383.6L433.3 382.8L438.3 381.1L442.3 378.9L447.3 375.3L450.9 372.1L454.5 368.2L458.1 363.4L460.3 359.9L462.4 355.5L465.7 346.0L468.2 339.5L470.3 334.5L472.8 329.7L476.1 324.3L479.3 319.9L483.3 315.2L487.6 311.0L492.6 306.8L497.7 303.4L503.8 300.1L510.2 297.3L519.2 294.3L524.3 293.0L531.1 292.3L538.6 291.9L545.8 292.1L554.8 292.9L558.4 293.4L561.6 294.3L567.0 296.5L573.9 300.2L577.5 302.6L581.1 305.6L585.4 309.9L590.4 315.5L594.7 320.9L598.7 326.5L601.6 331.4L607.7 342.7L610.9 349.0L615.2 358.1L617.4 361.8L619.9 365.6L623.1 369.7L627.8 374.7L630.7 377.2L634.6 380.0L638.2 382.1L641.1 383.4L645.4 384.5L649.7 385.3L663.0 386.3L681.0 386.4M393.4 386.4L412.1 386.4L418.2 385.8L429.4 383.6L432.6 382.8L438.0 380.8L441.2 379.0L446.6 375.0L450.2 371.7L454.2 367.2L457.8 362.3L460.3 358.1L462.4 353.7L465.7 344.1L468.2 337.6L470.3 332.6L472.5 328.5L475.7 323.2L479.0 318.7L482.6 314.5L486.9 310.3L492.3 305.8L497.7 302.2L504.5 298.4L511.0 295.5L519.6 292.4L524.6 291.1L532.5 290.2L539.7 289.8L547.3 290.1L556.3 291.0L559.1 291.5L562.0 292.4L567.4 294.7L574.6 298.7L578.5 301.6L582.5 305.0L587.5 310.2L591.5 314.6L595.4 319.6L599.0 324.7L601.9 329.7L607.7 340.6L610.9 347.1L615.6 357.2L618.1 361.5L620.6 365.4L624.2 370.0L628.2 374.4L631.0 377.0L635.3 380.2L638.6 382.2L641.1 383.3L645.4 384.5L650.1 385.3L656.9 386.0L663.4 386.4L681.0 386.4M393.4 386.4L412.1 386.4L418.2 385.8L424.0 384.7L431.9 382.8L436.9 380.9L440.5 379.0L444.8 375.7L449.5 371.4L453.4 366.9L457.4 361.5L459.9 357.3L462.4 352.1L465.3 343.6L467.8 336.9L470.0 331.8L472.1 327.6L475.0 322.8L478.2 318.3L481.8 314.1L486.2 309.9L491.9 305.1L497.7 301.2L504.8 297.2L511.7 294.1L519.9 291.0L525.0 289.6L533.6 288.6L540.4 288.3L547.6 288.6L556.3 289.4L559.1 290.0L562.4 291.0L567.8 293.5L574.9 297.5L578.9 300.4L583.6 304.6L588.6 309.7L592.2 313.7L596.2 318.7L599.4 323.4L602.3 328.5L608.0 339.5L610.9 345.5L615.6 355.9L618.4 361.0L621.0 364.9L624.9 370.2L628.5 374.3L631.0 376.6L635.7 380.2L638.9 382.2L641.5 383.3L646.1 384.6L650.4 385.4L663.4 386.4L681.0 386.4M393.4 386.4L412.1 386.3L418.2 385.8L424.0 384.6L431.5 382.8L436.5 380.9L440.1 378.9L444.4 375.5L449.5 370.7L453.4 366.0L457.4 360.4L460.3 355.5L462.4 351.0L465.3 342.4L467.5 336.6L469.6 331.4L471.8 327.1L474.6 322.3L477.5 318.3L481.1 314.1L485.1 310.2L490.8 305.4L496.9 301.1L504.5 296.8L511.3 293.6L519.6 290.5L524.6 289.0L532.9 287.9L540.4 287.5L547.6 287.8L556.3 288.7L559.5 289.3L562.7 290.4L568.5 293.1L575.7 297.2L580.0 300.5L585.0 305.0L589.7 309.8L593.3 313.8L596.9 318.4L599.8 322.7L602.6 327.8L608.0 338.3L610.9 344.3L615.6 354.9L618.4 360.1L621.3 364.7L625.3 370.1L628.9 374.3L631.4 376.7L636.1 380.3L638.9 382.1L641.5 383.3L646.1 384.5L650.4 385.3L663.4 386.4L681.0 386.4M393.4 386.4L412.1 386.3L418.2 385.7L424.3 384.5L431.5 382.7L436.2 380.9L439.8 378.9L443.7 375.8L448.8 370.9L452.7 366.3L457.0 360.2L459.5 356.0L462.1 350.9L463.1 348.1L465.3 341.5L467.5 335.7L469.6 330.6L471.4 327.0L474.3 322.1L477.2 318.1L480.4 314.3L484.4 310.3L490.5 305.3L496.6 301.0L504.5 296.5L511.7 293.1L519.9 289.9L525.0 288.5L533.6 287.4L540.8 287.0L548.0 287.3L556.6 288.2L560.2 289.0L563.8 290.3L569.9 293.3L576.7 297.4L581.8 301.3L587.9 307.0L591.5 310.7L595.1 314.9L598.3 319.3L600.5 322.7L608.4 337.8L615.6 353.9L618.4 359.3L621.3 364.1L625.3 369.6L628.9 373.9L631.4 376.4L636.4 380.4L639.3 382.2L641.8 383.3L646.5 384.6L650.8 385.4L663.4 386.4L681.0 386.4M393.4 386.4L412.1 386.3L418.6 385.7L424.7 384.4L431.5 382.6L436.2 380.8L439.8 378.7L443.7 375.5L448.8 370.6L452.7 365.8L457.0 359.7L459.5 355.4L462.1 350.3L463.1 347.6L465.3 340.9L467.5 335.2L469.6 330.0L471.4 326.4L474.3 321.6L477.2 317.6L480.4 313.9L484.0 310.3L490.1 305.3L496.6 300.8L504.5 296.3L511.7 292.9L519.9 289.7L525.0 288.2L533.6 287.1L540.8 286.8L548.0 287.1L556.6 287.9L560.2 288.7L563.8 290.1L570.3 293.3L574.6 295.7L577.1 297.3L582.5 301.5L589.0 307.5L592.6 311.2L595.8 315.0L598.7 318.9L600.8 322.4L608.4 336.9L615.9 353.9L618.8 359.4L621.7 364.1L625.6 369.7L629.2 374.0L632.1 376.8L636.8 380.5L639.3 382.1L641.8 383.3L646.5 384.6L650.8 385.4L663.4 386.4L681.0 386.4" fill="none" stroke="#ff0000" stroke-width="1.15" stroke-linejoin="round" />
<path d="M393.4 16.8L397.0 17.4L401.3 18.5L408.1 20.9L411.0 22.3L413.9 24.0L416.4 25.7L418.9 27.7L422.5 31.2L425.8 34.7L428.6 38.2L431.1 41.6L433.7 45.5L436.2 49.9L441.2 59.9L445.2 69.0L449.8 80.9L452.7 89.4L455.2 98.1L459.5 116.4L463.9 138.0L467.1 152.4L468.2 158.1L470.0 170.3L471.1 175.7L472.8 183.2L475.0 190.7L478.2 199.9L487.2 222.4L492.3 233.7L498.0 244.7L502.3 251.5L505.9 256.4L507.4 257.9L509.2 259.4L513.1 262.1L517.8 264.1L522.8 265.5L530.0 266.2L537.2 266.5L544.4 266.2L551.6 265.5L556.6 264.1L561.3 262.1L565.2 259.4L567.0 257.9L568.5 256.4L572.1 251.5L576.4 244.7L582.1 233.7L587.2 222.4L596.2 199.9L599.4 190.7L601.6 183.2L603.3 175.7L604.4 170.3L606.2 158.1L607.3 152.4L610.5 138.0L614.9 116.4L619.2 98.1L621.7 89.4L624.6 80.9L629.2 69.0L633.2 59.9L638.2 49.9L640.7 45.5L643.3 41.6L645.8 38.2L648.6 34.7L651.9 31.2L655.5 27.7L658.0 25.7L660.5 24.0L663.4 22.3L666.3 20.9L673.1 18.5L677.4 17.4L681.0 16.8L681.0 268.0L651.9 268.3L644.3 268.9L632.1 270.6L623.8 272.0L615.2 273.9L606.2 276.3L602.6 277.1L593.6 278.4L585.0 279.3L576.4 279.9L564.5 280.4L537.2 280.9L509.9 280.4L498.0 279.9L489.4 279.3L480.8 278.4L471.8 277.1L468.2 276.3L459.2 273.9L450.6 272.0L442.3 270.6L430.1 268.9L422.5 268.3L393.4 268.0Z" fill="#0000ff" stroke="#0000ff" stroke-width="0.6"/>
<path d="M393.4 23.3L396.6 23.5L400.9 24.3L403.1 25.0L405.6 26.2L409.2 28.0L412.1 29.9L416.8 33.4L420.4 36.5L423.2 39.4L425.4 41.9L430.8 49.3L435.5 57.2L440.1 66.8L443.7 75.5L448.8 88.9L451.6 97.4L454.2 106.1L465.3 154.5L472.5 190.6L477.9 211.7L480.4 219.9L482.9 226.7L486.5 235.1L490.1 242.0L491.9 244.8L494.1 247.6L497.3 251.3L500.2 254.1L504.1 257.3L508.1 259.7L511.0 261.9L513.5 263.4L518.5 265.5L523.2 266.7L530.4 267.4L537.2 267.6L544.0 267.4L551.2 266.7L555.9 265.5L560.9 263.4L563.4 261.9L566.3 259.7L570.3 257.3L574.2 254.1L577.1 251.3L580.3 247.6L582.5 244.8L584.3 242.0L587.9 235.1L591.5 226.7L594.0 219.9L596.5 211.7L601.9 190.6L609.1 154.5L620.2 106.1L622.8 97.4L625.6 88.9L630.7 75.5L634.3 66.8L638.9 57.2L643.6 49.3L649.0 41.9L651.2 39.4L654.0 36.5L657.6 33.4L662.3 29.9L665.2 28.0L668.8 26.2L671.3 25.0L673.5 24.3L677.8 23.5L681.0 23.3M393.4 47.7L396.6 47.9L400.9 48.7L403.1 49.3L405.6 50.3L409.2 52.0L412.1 53.7L416.8 56.9L420.4 59.7L425.4 64.5L430.8 71.1L435.5 78.3L440.1 86.9L443.7 94.7L448.8 106.8L451.6 114.4L454.2 122.2L465.3 165.7L472.5 198.3L477.9 217.3L480.4 224.7L482.9 230.8L486.5 238.3L490.1 244.5L492.3 247.5L494.4 249.9L497.7 253.2L500.5 255.7L504.8 258.7L509.9 261.1L512.0 262.6L514.2 263.8L519.2 265.7L523.2 266.7L530.4 267.4L537.2 267.6L544.0 267.4L551.2 266.7L555.2 265.7L560.2 263.8L562.4 262.6L564.5 261.1L569.6 258.7L573.9 255.7L576.7 253.2L580.0 249.9L582.1 247.5L584.3 244.5L587.9 238.3L591.5 230.8L594.0 224.7L596.5 217.3L601.9 198.3L609.1 165.7L620.2 122.2L622.8 114.4L625.6 106.8L630.7 94.7L634.3 86.9L638.9 78.3L643.6 71.1L649.0 64.5L654.0 59.7L657.6 56.9L662.3 53.7L665.2 52.0L668.8 50.3L671.3 49.3L673.5 48.7L677.8 47.9L681.0 47.7M393.4 73.1L396.6 73.3L400.9 73.9L405.6 75.4L409.2 76.9L412.1 78.4L416.8 81.2L420.4 83.7L425.4 87.9L430.8 93.8L435.5 100.1L440.1 107.7L443.7 114.7L448.8 125.3L451.6 132.1L454.2 139.0L465.3 177.5L472.5 206.2L477.9 223.0L480.4 229.5L482.9 235.0L486.5 241.6L490.1 247.1L492.3 249.7L494.8 252.2L498.0 255.1L501.3 257.5L505.6 260.0L511.7 262.4L514.9 264.1L519.6 265.8L523.5 266.8L530.7 267.4L537.2 267.6L543.7 267.4L550.9 266.8L554.8 265.8L559.5 264.1L562.7 262.4L568.8 260.0L573.2 257.5L576.4 255.1L579.6 252.2L582.1 249.7L584.3 247.1L587.9 241.6L591.5 235.0L594.0 229.5L596.5 223.0L601.9 206.2L609.1 177.5L620.2 139.0L622.8 132.1L625.6 125.3L630.7 114.7L634.3 107.7L638.9 100.1L643.6 93.8L649.0 87.9L654.0 83.7L657.6 81.2L662.3 78.4L665.2 76.9L668.8 75.4L673.5 73.9L677.8 73.3L681.0 73.1M393.4 98.3L396.6 98.5L400.9 99.1L405.6 100.3L409.2 101.6L412.1 102.9L416.8 105.3L420.4 107.5L425.4 111.2L430.8 116.3L435.5 121.8L440.1 128.4L443.7 134.5L448.8 143.7L451.6 149.6L454.2 155.6L465.3 189.1L472.5 214.1L477.9 228.7L480.4 234.4L482.9 239.1L486.5 244.9L490.1 249.7L493.0 252.6L498.0 256.6L502.3 259.3L506.6 261.3L513.5 263.4L518.9 265.6L522.5 266.6L529.7 267.3L537.2 267.6L544.7 267.3L551.9 266.6L555.5 265.6L560.9 263.4L567.8 261.3L572.1 259.3L576.4 256.6L581.4 252.6L584.3 249.7L587.9 244.9L591.5 239.1L594.0 234.4L596.5 228.7L601.9 214.1L609.1 189.1L620.2 155.6L622.8 149.6L625.6 143.7L630.7 134.5L634.3 128.4L638.9 121.8L643.6 116.3L649.0 111.2L654.0 107.5L657.6 105.3L662.3 102.9L665.2 101.6L668.8 100.3L673.5 99.1L677.8 98.5L681.0 98.3M393.4 123.3L400.9 123.9L406.0 125.0L412.5 127.1L420.4 130.7L425.4 133.7L430.8 137.9L435.5 142.4L440.1 148.0L443.7 153.1L448.4 160.5L451.6 166.2L454.2 171.3L465.3 200.1L472.5 221.4L477.9 234.0L480.8 239.6L483.3 243.6L486.9 248.6L490.1 252.2L493.0 254.8L498.0 258.2L502.3 260.6L506.6 262.3L511.0 263.5L515.6 264.5L519.9 265.9L523.2 266.7L530.4 267.4L537.2 267.6L544.0 267.4L551.2 266.7L554.5 265.9L558.8 264.5L563.4 263.5L567.8 262.3L572.1 260.6L576.4 258.2L581.4 254.8L584.3 252.2L587.5 248.6L591.1 243.6L593.6 239.6L596.5 234.0L601.9 221.4L609.1 200.1L620.2 171.3L622.8 166.2L626.0 160.5L630.7 153.1L634.3 148.0L638.9 142.4L643.6 137.9L649.0 133.7L654.0 130.7L661.9 127.1L668.4 125.0L673.5 123.9L681.0 123.3M393.4 148.1L401.3 148.6L406.7 149.5L413.5 151.3L421.1 154.1L426.1 156.6L431.5 160.0L436.2 163.8L440.5 168.1L444.1 172.3L448.4 178.0L451.6 182.8L454.2 187.2L464.9 210.3L472.5 228.9L475.4 234.7L478.2 240.1L481.1 244.6L484.0 248.4L487.2 252.0L490.5 255.1L493.7 257.4L498.4 260.0L502.7 261.9L506.6 263.2L511.7 264.3L517.8 265.3L521.0 266.2L523.5 266.8L530.7 267.4L537.2 267.6L543.7 267.4L550.9 266.8L553.4 266.2L556.6 265.3L562.7 264.3L567.8 263.2L571.7 261.9L576.0 260.0L580.7 257.4L583.9 255.1L587.2 252.0L590.4 248.4L593.3 244.6L596.2 240.1L599.0 234.7L601.9 228.9L609.5 210.3L620.2 187.2L622.8 182.8L626.0 178.0L630.3 172.3L633.9 168.1L638.2 163.8L642.9 160.0L648.3 156.6L653.3 154.1L660.9 151.3L667.7 149.5L673.1 148.6L681.0 148.1M393.4 173.7L401.3 174.1L408.1 175.0L415.0 176.4L421.4 178.2L426.5 180.1L431.9 182.7L436.5 185.7L440.9 189.1L444.4 192.4L448.4 196.6L451.6 200.4L454.2 203.8L464.9 222.1L472.5 236.7L475.4 241.4L478.2 245.6L481.1 249.3L484.0 252.3L487.2 255.2L490.5 257.6L493.7 259.5L498.0 261.4L502.3 262.9L506.6 264.1L512.8 265.1L519.6 265.9L524.3 266.9L531.1 267.4L537.2 267.6L543.3 267.4L550.1 266.9L554.8 265.9L561.6 265.1L567.8 264.1L572.1 262.9L576.4 261.4L580.7 259.5L583.9 257.6L587.2 255.2L590.4 252.3L593.3 249.3L596.2 245.6L599.0 241.4L601.9 236.7L609.5 222.1L620.2 203.8L622.8 200.4L626.0 196.6L630.0 192.4L633.5 189.1L637.9 185.7L642.5 182.7L647.9 180.1L653.0 178.2L659.4 176.4L666.3 175.0L673.1 174.1L681.0 173.7M393.4 198.9L401.7 199.2L408.5 199.8L415.7 200.8L421.8 202.0L426.8 203.4L431.9 205.1L436.5 207.2L440.9 209.6L444.4 212.1L448.4 215.1L451.3 217.6L454.2 220.5L464.6 233.5L472.5 244.6L478.2 251.2L481.1 253.9L484.4 256.4L487.6 258.6L490.8 260.3L494.4 261.8L498.4 263.1L502.3 264.1L506.6 264.9L513.1 265.7L521.0 266.3L526.1 267.0L532.2 267.5L537.2 267.6L542.2 267.5L548.3 267.0L553.4 266.3L561.3 265.7L567.8 264.9L572.1 264.1L576.0 263.1L580.0 261.8L583.6 260.3L586.8 258.6L590.0 256.4L593.3 253.9L596.2 251.2L601.9 244.6L609.8 233.5L620.2 220.5L623.1 217.6L626.0 215.1L630.0 212.1L633.5 209.6L637.9 207.2L642.5 205.1L647.6 203.4L652.6 202.0L658.7 200.8L665.9 199.8L672.7 199.2L681.0 198.9M393.4 227.7L401.7 227.9L408.5 228.3L422.2 229.7L427.2 230.5L432.2 231.7L436.9 233.1L441.2 234.7L448.4 238.2L451.6 240.1L454.5 242.1L464.6 250.5L472.5 257.9L478.6 262.5L481.5 264.3L484.7 266.0L487.9 267.4L491.2 268.5L499.1 270.4L507.7 271.6L519.9 272.3L537.2 272.8L554.5 272.3L566.7 271.6L575.3 270.4L583.2 268.5L586.5 267.4L589.7 266.0L592.9 264.3L595.8 262.5L601.9 257.9L609.8 250.5L619.9 242.1L622.8 240.1L626.0 238.2L633.2 234.7L637.5 233.1L642.2 231.7L647.2 230.5L652.2 229.7L665.9 228.3L672.7 227.9L681.0 227.7" fill="none" stroke="#000" stroke-width="1.2" stroke-linejoin="round" />
<path d="M44.4 233.3L60.2 233.8L72.1 234.7L82.1 236.3L86.5 237.3L90.8 238.5L98.7 241.5L107.3 245.8L114.5 250.0L122.8 256.0L129.2 259.8L135.0 262.3L141.1 264.1L148.7 265.4L158.0 266.3L169.9 266.7L188.2 266.9L206.5 266.7L218.4 266.3L227.7 265.4L235.3 264.1L241.4 262.3L247.2 259.8L253.6 256.0L261.9 250.0L269.1 245.8L277.7 241.5L285.6 238.5L289.9 237.3L294.3 236.3L304.3 234.7L316.2 233.8L332.0 233.3L332.0 266.1L313.3 266.4L303.2 266.9L300.7 267.2L287.4 271.3L260.8 280.5L257.2 281.3L250.4 282.3L243.2 283.1L236.7 283.4L212.6 283.8L188.2 284.0L163.8 283.8L139.7 283.4L133.2 283.1L126.0 282.3L119.2 281.3L115.6 280.5L89.0 271.3L75.7 267.2L73.2 266.9L63.1 266.4L44.4 266.1Z" fill="#0000ff" stroke="#0000ff" stroke-width="0.6"/>
<path d="M44.4 141.5L69.6 141.7L86.5 142.2L101.2 143.1L128.2 146.0L141.8 147.0L160.2 147.7L188.2 147.9L216.2 147.7L234.6 147.0L248.2 146.0L275.2 143.1L289.9 142.2L306.8 141.7L332.0 141.5M44.4 128.3L58.8 128.6L69.6 129.0L78.6 129.6L86.5 130.4L94.0 131.7L101.2 133.4L108.4 135.5L128.2 142.0L135.0 143.8L141.8 145.2L150.5 146.4L160.2 147.2L172.0 147.7L188.2 147.9L204.4 147.7L216.2 147.2L225.9 146.4L234.6 145.2L241.4 143.8L248.2 142.0L268.0 135.5L275.2 133.4L282.4 131.7L289.9 130.4L297.8 129.6L306.8 129.0L317.6 128.6L332.0 128.3M44.4 123.6L60.6 123.9L72.4 124.5L82.1 125.5L90.8 127.0L97.6 128.7L104.4 130.9L124.2 139.1L131.4 141.7L138.6 143.8L146.1 145.3L154.0 146.4L163.0 147.2L173.8 147.7L188.2 147.9L202.6 147.7L213.4 147.2L222.4 146.4L230.3 145.3L237.8 143.8L245.0 141.7L252.2 139.1L272.0 130.9L278.8 128.7L285.6 127.0L294.3 125.5L304.0 124.5L315.8 123.9L332.0 123.6M44.4 121.3L60.6 121.7L72.4 122.4L82.1 123.5L90.8 125.1L97.6 126.9L104.4 129.4L110.2 131.8L124.2 138.3L131.4 141.1L138.6 143.4L146.1 145.1L154.0 146.3L163.0 147.1L173.8 147.6L188.2 147.9L204.4 147.6L216.2 146.9L225.9 145.8L234.6 144.2L241.4 142.3L248.2 139.9L254.0 137.5L268.0 131.0L275.2 128.2L282.4 125.9L289.9 124.2L297.8 123.0L306.8 122.2L317.6 121.7L332.0 121.3M44.4 119.1L58.8 119.4L69.6 120.0L78.6 120.9L86.5 122.2L94.0 124.0L101.2 126.5L108.4 129.6L122.4 136.6L128.2 139.2L135.0 141.9L141.8 143.9L150.5 145.6L160.2 146.8L172.0 147.5L188.2 147.9L204.4 147.5L216.2 146.8L225.9 145.6L234.6 143.9L241.4 141.9L248.2 139.2L254.0 136.6L268.0 129.6L275.2 126.5L282.4 124.0L289.9 122.2L297.8 120.9L306.8 120.0L317.6 119.4L332.0 119.1M44.4 117.4L58.8 117.8L69.6 118.4L78.6 119.3L86.5 120.7L94.0 122.6L101.2 125.2L108.4 128.5L122.4 135.9L128.2 138.7L135.0 141.5L141.8 143.7L150.5 145.5L160.2 146.7L172.0 147.5L188.2 147.9L204.4 147.5L216.2 146.7L225.9 145.5L234.6 143.7L241.4 141.5L248.2 138.7L254.0 135.9L268.0 128.5L275.2 125.2L282.4 122.6L289.9 120.7L297.8 119.3L306.8 118.4L317.6 117.8L332.0 117.4M44.4 115.7L60.6 116.2L72.4 117.0L82.1 118.3L90.8 120.3L97.6 122.5L104.4 125.5L110.2 128.4L124.2 136.2L131.4 139.7L138.6 142.4L146.1 144.5L154.0 146.0L163.0 146.9L173.8 147.6L188.2 147.9L202.6 147.6L213.4 146.9L222.4 146.0L230.3 144.5L237.8 142.4L245.0 139.7L252.2 136.2L266.2 128.4L272.0 125.5L278.8 122.5L285.6 120.3L294.3 118.3L304.0 117.0L315.8 116.2L332.0 115.7" fill="none" stroke="#0000ff" stroke-width="1.2" stroke-linejoin="round" />
<path d="M44.4 80.8L62.4 81.2L68.8 81.6L74.6 82.2L79.6 83.0L84.3 84.1L88.3 85.4L92.2 87.0L96.2 89.2L100.1 91.9L104.1 95.0L108.0 98.7L113.4 104.1L119.9 113.2L122.8 116.5L125.3 119.0L127.4 120.7L130.0 122.4L132.5 123.6L135.4 124.8L138.2 125.6L141.8 126.3L150.8 127.1L163.0 127.4L188.2 127.5L213.4 127.4L225.6 127.1L234.6 126.3L238.2 125.6L241.0 124.8L243.9 123.6L246.4 122.4L249.0 120.7L251.1 119.0L253.6 116.5L256.5 113.2L263.0 104.1L268.4 98.7L272.3 95.0L276.3 91.9L280.2 89.2L284.2 87.0L288.1 85.4L292.1 84.1L296.8 83.0L301.8 82.2L307.6 81.6L314.0 81.2L332.0 80.8L332.0 113.5L317.6 113.9L306.8 114.6L297.8 115.6L289.9 117.1L282.4 119.3L275.2 122.3L268.0 125.9L254.0 134.2L248.2 137.3L241.4 140.5L234.6 142.9L225.9 144.9L216.2 146.3L204.4 147.2L188.2 147.7L172.0 147.2L160.2 146.3L150.5 144.9L141.8 142.9L135.0 140.5L128.2 137.3L122.4 134.2L108.4 125.9L101.2 122.3L94.0 119.3L86.5 117.1L78.6 115.6L69.6 114.6L58.8 113.9L44.4 113.5Z" fill="#0000ff" stroke="#0000ff" stroke-width="0.6"/>
<path d="M44.4 103.7L60.6 104.1L72.1 104.7L81.1 105.8L89.0 107.6L95.8 109.9L102.3 113.1L108.0 116.7L117.7 124.0L127.1 130.1L135.0 134.5L142.5 137.8L146.9 139.2L151.2 140.4L155.8 141.4L161.2 142.2L173.1 143.4L188.2 144.0L203.3 143.4L215.2 142.2L220.6 141.4L225.2 140.4L229.5 139.2L233.9 137.8L241.4 134.5L249.3 130.1L258.7 124.0L268.4 116.7L274.1 113.1L280.6 109.9L287.4 107.6L295.3 105.8L304.3 104.7L315.8 104.1L332.0 103.7" fill="none" stroke="#000" stroke-width="1.2" stroke-linejoin="round" />
<path d="M44.4 -15.2L332.0 -15.2L332.0 -26.4L257.6 -1.0L250.4 1.2L240.7 3.9L228.8 6.5L214.8 8.9L200.1 10.1L188.2 10.5L176.3 10.1L161.6 8.9L147.6 6.5L135.7 3.9L126.0 1.2L118.8 -1.0L44.4 -26.4Z" fill="#0000ff" stroke="#0000ff" stroke-width="0.6"/>
<path d="M44.4 -26.4L74.6 -20.3L107.7 -12.9L145.4 -4.0L158.4 -0.2L163.0 1.0L166.6 1.6L176.7 2.6L182.8 3.1L188.2 3.2L193.6 3.1L199.7 2.6L209.8 1.6L213.4 1.0L218.0 -0.2L231.0 -4.0L268.7 -12.9L301.8 -20.3L332.0 -26.4" fill="none" stroke="#000" stroke-width="1.2" stroke-linejoin="round" />
<path d="M44.4 233.3L59.1 233.7L70.3 234.4L79.6 235.5L87.9 237.1L96.2 239.6L104.8 243.1L114.5 247.9L121.0 252.1L125.6 254.8L130.0 256.8L134.3 258.4L140.0 260.0L146.9 261.2L154.8 262.0L164.5 262.4L164.8 262.4L165.2 259.0L165.9 256.3L166.6 254.5L168.4 251.4L170.9 248.3L173.8 245.8L177.4 243.6L181.4 241.9L185.7 240.8L188.6 240.4L191.4 240.3L196.8 240.8L199.7 241.5L202.2 242.4L204.7 243.6L206.9 244.8L209.1 246.4L210.8 248.0L212.6 249.9L214.1 251.9L215.2 253.8L216.2 256.3L217.0 259.0L217.3 262.2L218.4 262.1L226.3 261.6L232.8 260.7L238.5 259.5L243.6 257.9L247.2 256.5L251.1 254.6L255.8 251.9L261.9 247.9L270.9 243.4L279.2 239.9L287.4 237.4L295.7 235.7L305.4 234.5L316.9 233.7L332.0 233.3M44.4 233.3L59.1 233.7L70.6 234.4L80.0 235.5L88.3 237.2L96.5 239.7L104.8 243.1L114.5 247.9L121.0 252.1L125.6 254.8L129.6 256.7L133.9 258.3L139.7 259.9L146.1 261.1L153.7 261.9L162.7 262.3L163.4 258.0L164.8 253.7L166.6 250.4L169.1 247.2L172.4 244.3L176.0 242.1L180.3 240.2L184.6 239.2L187.8 238.7L191.1 238.6L194.3 238.7L197.5 239.2L200.4 239.8L203.3 240.8L205.8 241.9L208.3 243.3L210.5 244.9L212.6 246.8L214.4 248.9L216.2 251.6L217.3 253.7L218.4 256.6L219.5 262.1L227.0 261.5L233.1 260.6L238.5 259.5L243.6 257.9L247.2 256.5L251.1 254.6L255.8 251.9L261.9 247.9L270.9 243.4L279.2 239.9L287.4 237.4L295.7 235.7L305.4 234.5L316.9 233.7L332.0 233.3M44.4 233.3L59.1 233.7L70.6 234.4L80.0 235.5L88.3 237.2L96.5 239.7L105.2 243.3L114.5 247.9L121.0 252.1L125.6 254.8L129.6 256.7L133.6 258.2L138.9 259.8L145.1 260.9L152.2 261.8L160.9 262.3L161.6 257.1L162.7 253.6L164.8 249.4L167.3 246.1L170.6 243.1L174.5 240.5L178.9 238.7L183.5 237.5L187.1 237.1L190.7 236.9L194.7 237.1L198.3 237.5L201.5 238.2L204.4 239.1L207.3 240.3L209.8 241.8L212.3 243.7L214.4 245.7L216.2 247.8L218.0 250.6L219.1 252.7L220.2 255.7L220.9 258.9L221.3 262.0L228.1 261.4L233.9 260.5L239.2 259.3L243.9 257.8L247.5 256.3L251.1 254.6L255.8 251.9L261.9 247.9L270.5 243.6L278.8 240.1L287.1 237.5L295.3 235.7L305.0 234.5L316.5 233.7L332.0 233.3M44.4 233.3L59.1 233.7L70.6 234.4L80.3 235.6L88.6 237.3L96.9 239.8L105.2 243.3L114.5 247.9L120.6 251.9L125.3 254.6L129.2 256.5L133.2 258.1L138.6 259.7L144.3 260.8L150.8 261.6L158.7 262.2L159.8 256.1L160.9 252.7L163.0 248.4L165.9 244.5L169.1 241.5L173.1 239.0L177.4 237.1L182.4 235.9L186.0 235.4L190.0 235.3L194.7 235.3L198.6 235.7L201.9 236.3L205.1 237.3L208.0 238.4L210.8 240.0L213.4 241.8L215.9 244.2L217.7 246.3L219.5 249.0L220.9 251.8L222.0 254.8L223.4 261.8L229.5 261.2L234.9 260.3L240.0 259.1L244.6 257.5L251.5 254.4L256.1 251.7L261.9 247.9L270.2 243.8L278.4 240.2L286.7 237.6L295.3 235.7L305.0 234.5L316.5 233.7L332.0 233.3M44.4 233.3L59.5 233.7L71.0 234.5L80.7 235.7L89.0 237.4L97.2 239.9L105.5 243.4L114.5 247.9L120.6 251.9L125.3 254.6L129.2 256.5L132.8 257.9L137.9 259.5L143.3 260.6L149.4 261.5L156.9 262.1L157.6 256.7L159.1 251.7L161.2 247.3L164.1 243.4L167.7 240.0L171.7 237.4L176.3 235.4L181.4 234.2L185.3 233.8L189.6 233.6L195.4 233.7L199.7 234.1L203.3 234.7L206.5 235.7L209.4 236.9L212.3 238.5L214.8 240.3L217.3 242.6L219.5 245.2L221.3 247.9L222.7 250.8L223.8 253.8L224.5 256.7L225.2 261.7L231.0 261.0L236.0 260.1L240.7 258.9L245.0 257.4L251.5 254.4L256.1 251.7L261.9 247.9L270.2 243.8L278.4 240.2L286.7 237.6L295.3 235.7L305.0 234.5L316.5 233.7L332.0 233.3M44.4 233.3L59.9 233.7L71.4 234.5L81.1 235.7L89.3 237.5L97.6 240.1L105.9 243.6L114.5 247.9L120.3 251.7L124.9 254.4L128.5 256.2L132.1 257.7L136.8 259.2L142.2 260.5L147.9 261.3L154.4 261.9L154.8 257.5L155.1 255.5L156.6 250.4L158.7 245.8L160.2 243.5L162.0 241.2L165.6 237.7L167.7 236.1L169.9 234.8L172.4 233.6L174.9 232.7L180.3 231.4L184.6 231.0L189.3 230.8L195.7 230.9L200.8 231.3L204.4 231.9L208.0 232.9L211.2 234.3L214.1 235.9L217.0 238.0L219.5 240.4L221.6 243.0L223.8 246.4L225.6 250.4L226.7 253.9L227.4 257.5L227.7 261.4L232.8 260.7L237.5 259.8L241.8 258.6L245.7 257.1L251.8 254.2L256.1 251.7L261.9 247.9L269.8 243.9L278.4 240.2L286.3 237.7L295.0 235.8L304.7 234.5L316.5 233.7L332.0 233.3M44.4 233.3L59.9 233.7L71.4 234.5L81.1 235.7L89.7 237.6L98.0 240.2L106.2 243.8L114.5 247.9L120.3 251.7L124.9 254.4L131.4 257.4L135.7 258.9L140.4 260.1L145.4 261.0L150.8 261.6L151.2 256.9L151.5 254.6L153.0 249.0L154.0 246.2L155.5 243.2L156.9 240.7L158.7 238.2L160.5 236.2L162.7 234.1L164.8 232.4L167.3 230.8L169.9 229.6L172.7 228.5L175.6 227.6L178.9 227.0L183.2 226.5L188.6 226.3L196.5 226.4L201.9 226.8L205.8 227.5L209.8 228.6L213.0 229.9L216.2 231.7L219.5 234.1L222.4 236.9L224.9 240.2L227.0 243.8L228.5 247.0L229.9 251.4L231.0 256.9L231.3 260.9L239.2 259.3L242.8 258.2L246.4 256.8L253.3 253.4L261.9 247.9L269.4 244.1L278.1 240.4L286.0 237.8L294.6 235.8L304.3 234.6L316.2 233.7L332.0 233.3M44.4 233.3L60.2 233.7L72.1 234.6L81.8 235.8L90.4 237.8L98.3 240.4L107.0 244.1L114.5 247.9L119.9 251.4L124.2 254.0L130.3 257.0L134.3 258.4L138.2 259.6L142.2 260.5L146.9 261.2L147.6 253.7L148.3 250.2L149.4 246.4L150.8 242.7L152.2 239.7L154.0 236.7L155.8 234.2L158.0 231.7L160.2 229.7L162.7 227.8L165.2 226.2L168.1 224.8L170.9 223.7L174.2 222.9L177.4 222.3L182.4 221.7L188.6 221.6L197.5 221.6L203.7 222.1L208.0 222.9L211.9 224.0L215.5 225.5L219.1 227.5L222.4 230.0L225.6 233.3L228.5 237.2L230.6 241.1L232.4 245.4L233.9 250.2L234.6 253.7L235.3 260.2L241.4 258.7L247.2 256.5L253.6 253.2L261.9 247.9L269.1 244.3L277.7 240.5L285.6 237.9L294.3 235.9L304.3 234.6L316.2 233.7L332.0 233.3M44.4 233.3L60.2 233.7L72.1 234.6L82.1 235.9L90.8 237.9L98.7 240.5L107.3 244.3L114.5 247.9L122.8 253.2L129.6 256.7L135.7 258.9L142.5 260.5L143.3 252.8L144.3 247.4L145.4 243.7L146.9 239.8L148.3 236.7L150.1 233.5L152.2 230.4L154.4 227.8L156.9 225.4L159.4 223.4L162.3 221.6L165.2 220.2L168.4 218.9L172.0 217.9L175.6 217.3L181.0 216.7L187.8 216.5L198.3 216.6L205.1 217.1L209.8 217.8L214.1 219.0L218.0 220.6L221.6 222.7L225.6 225.7L228.8 229.1L231.7 232.9L234.2 237.4L236.4 242.6L237.8 247.4L238.9 252.8L239.6 259.2L245.0 257.4L250.0 255.1L255.1 252.3L261.9 247.9L271.2 243.3L278.4 240.2L285.6 237.9L294.3 235.9L304.3 234.6L316.2 233.7L332.0 233.3M44.4 233.3L60.2 233.7L72.1 234.6L82.1 235.9L90.8 237.9L97.6 240.1L104.8 243.1L114.5 247.9L121.3 252.3L126.7 255.3L132.1 257.7L137.9 259.5L138.2 254.6L138.9 249.5L140.0 244.5L141.1 240.8L142.5 236.8L144.3 232.8L146.5 229.0L148.7 225.9L151.2 223.0L153.7 220.6L156.6 218.3L159.4 216.5L162.7 214.9L166.3 213.6L170.2 212.6L174.2 211.9L180.3 211.4L187.8 211.2L199.7 211.3L206.9 211.8L211.9 212.6L216.6 213.8L220.9 215.6L224.9 217.8L228.8 220.9L232.4 224.6L235.7 229.0L238.2 233.6L240.3 238.7L242.1 244.5L243.2 249.5L244.3 257.7L247.9 256.2L251.5 254.4L256.1 251.7L261.9 247.9L269.8 243.9L278.1 240.4L285.6 237.9L294.3 235.9L304.3 234.6L316.2 233.7L332.0 233.3M44.4 233.3L60.2 233.7L72.1 234.6L82.1 235.9L90.8 237.9L98.3 240.4L106.6 243.9L114.5 247.9L120.3 251.7L124.9 254.4L128.5 256.2L132.1 257.7L132.8 250.2L133.9 244.1L135.4 238.5L137.2 233.3L139.3 228.4L142.2 223.4L145.4 219.0L149.0 215.3L152.6 212.4L156.6 210.0L160.9 208.1L165.6 206.7L170.6 205.7L176.0 205.1L182.1 204.8L191.1 204.8L200.1 204.8L206.2 205.1L211.6 205.7L216.2 206.6L220.9 208.0L224.9 209.7L228.8 212.0L232.4 214.7L235.7 217.8L238.9 221.8L241.8 226.4L244.3 231.5L246.4 237.4L247.9 242.6L249.0 247.9L250.0 255.1L255.1 252.3L261.9 247.9L269.8 243.9L278.4 240.2L286.7 237.6L295.3 235.7L305.0 234.5L316.5 233.7L332.0 233.3M44.4 233.3L59.9 233.7L71.4 234.5L81.1 235.7L89.7 237.6L98.0 240.2L106.6 243.9L114.5 247.9L121.0 252.1L125.6 254.8L126.4 248.0L127.8 240.1L129.6 233.4L131.8 227.4L134.3 222.0L137.5 216.6L140.7 212.4L144.7 208.5L148.7 205.4L153.0 202.9L157.6 200.9L162.7 199.4L168.1 198.4L173.8 197.8L180.7 197.5L191.1 197.5L201.1 197.5L207.6 197.8L213.4 198.3L218.8 199.3L223.8 200.7L228.5 202.5L232.4 204.7L236.4 207.5L240.0 210.9L243.6 215.1L246.8 220.1L249.3 225.0L251.8 231.2L253.6 237.1L255.1 243.6L256.1 250.9L256.5 251.4L261.9 247.9L272.7 242.6L280.6 239.4L288.5 237.1L296.8 235.5L306.1 234.4L317.3 233.7L332.0 233.3M44.4 233.3L58.8 233.7L69.6 234.3L78.6 235.3L86.5 236.8L94.0 238.8L101.2 241.5L111.6 246.4L114.5 247.9L117.0 249.6L118.1 241.8L119.9 233.5L122.1 226.4L124.6 220.1L127.4 214.4L131.0 208.8L135.0 204.1L139.3 200.1L143.6 197.0L148.3 194.5L153.3 192.5L159.1 191.0L164.8 190.0L171.7 189.4L179.2 189.1L191.1 189.1L202.6 189.1L210.1 189.4L217.0 190.0L222.7 190.9L228.1 192.3L233.1 194.2L237.8 196.6L242.1 199.5L246.4 203.3L250.4 207.9L254.0 213.2L256.9 218.5L259.4 224.4L261.5 230.9L263.3 238.1L264.8 246.4L272.7 242.6L279.2 239.9L285.6 237.9L292.5 236.2L300.0 235.0L308.6 234.2L319.1 233.6L332.0 233.3M44.4 233.3L61.3 233.8L73.9 234.7L83.9 236.2L94.0 238.7L102.6 233.1L105.5 230.8L107.7 228.6L110.5 224.9L114.5 219.0L120.3 208.3L124.2 202.6L126.7 199.3L129.2 196.6L131.4 194.7L134.3 192.7L138.6 190.4L143.6 188.4L153.3 185.6L160.2 184.0L166.3 183.1L181.0 182.1L187.8 181.9L200.8 182.2L211.2 182.1L215.2 182.6L219.5 183.7L224.5 185.7L232.1 189.1L236.0 191.5L240.7 195.1L245.4 199.3L253.3 208.0L257.2 212.8L261.5 219.3L269.8 236.0L271.2 238.5L273.8 242.0L280.2 239.6L285.3 238.0L291.0 236.5L297.1 235.4L304.0 234.6L311.5 234.0L332.0 233.3M44.4 233.3L60.6 233.8L72.4 234.6L82.1 235.9L91.9 238.0L102.3 230.9L105.2 228.5L107.3 226.3L110.5 222.0L114.5 215.9L120.3 204.8L124.9 197.8L127.4 194.4L130.0 191.6L131.8 190.0L135.0 187.6L139.7 184.8L144.7 182.5L154.8 178.7L161.2 176.7L165.9 175.7L176.3 174.4L182.8 173.7L188.2 173.5L210.5 174.3L214.8 175.0L219.1 176.4L223.8 178.6L231.7 182.8L235.7 185.5L240.7 189.8L245.4 194.4L253.3 203.8L257.2 209.0L259.7 212.7L261.9 216.4L270.5 234.4L274.1 239.8L275.2 241.2L275.6 241.4L281.0 239.3L286.3 237.7L292.1 236.3L298.2 235.3L304.7 234.5L312.2 234.0L332.0 233.3M44.4 233.3L59.1 233.7L70.6 234.4L79.6 235.5L84.7 236.4L89.7 237.6L90.1 237.4L101.9 229.1L104.8 226.6L107.3 224.0L110.5 219.6L114.5 213.3L120.3 202.0L125.3 194.2L127.8 190.8L130.3 187.9L132.5 185.9L135.4 183.7L140.0 180.7L145.4 177.9L155.1 173.7L161.6 171.3L166.3 170.1L176.3 168.5L182.8 167.7L188.2 167.4L196.5 167.6L206.9 168.3L211.6 168.7L214.4 169.3L218.4 170.7L223.1 173.1L231.3 178.0L235.3 180.9L240.0 185.1L245.0 190.3L252.9 200.1L256.9 205.4L259.7 209.8L261.9 213.6L270.5 231.9L273.8 236.9L276.6 240.7L277.0 240.8L282.7 238.7L288.5 237.1L293.5 236.0L299.3 235.1L305.8 234.4L312.9 233.9L332.0 233.3M44.4 233.3L59.1 233.7L70.3 234.4L79.6 235.5L87.9 237.1L101.2 227.7L104.4 225.0L107.0 222.3L110.2 217.9L114.5 211.0L120.3 199.5L125.3 191.5L127.8 188.0L130.3 185.0L132.5 182.9L135.7 180.3L140.4 177.1L145.8 174.1L155.5 169.5L162.0 166.9L166.6 165.5L176.7 163.5L182.8 162.7L188.2 162.3L195.7 162.6L204.0 163.2L210.8 163.9L214.4 164.7L218.4 166.3L223.1 168.8L231.3 174.1L235.3 177.2L240.0 181.6L245.0 187.0L252.9 197.2L256.9 202.7L259.7 207.2L261.9 211.1L269.1 226.8L270.9 230.4L275.2 236.8L278.1 240.1L278.4 240.2L283.8 238.4L289.6 236.9L294.6 235.8L300.4 235.0L313.7 233.9L332.0 233.3M44.4 233.3L58.4 233.7L69.2 234.3L78.2 235.3L86.1 236.7L90.4 233.9L100.5 226.6L103.7 223.9L106.6 221.0L109.8 216.7L113.8 210.3L115.6 207.1L120.3 197.5L125.6 188.8L128.2 185.4L130.7 182.4L133.2 180.0L136.1 177.7L140.7 174.4L146.5 171.1L155.8 166.4L162.3 163.7L166.6 162.4L176.7 160.3L182.8 159.4L188.2 159.0L195.0 159.2L202.6 159.8L210.8 160.7L214.1 161.5L218.0 163.1L222.7 165.7L231.3 171.4L234.9 174.2L239.2 178.4L244.6 184.2L248.6 189.3L256.1 199.5L259.4 204.5L261.9 209.1L269.1 225.0L271.2 229.2L274.1 233.6L276.3 236.5L278.1 238.4L279.5 239.4L280.2 239.6L286.0 237.8L291.7 236.4L301.4 234.9L314.4 233.8L332.0 233.3M44.4 233.3L57.3 233.6L67.8 234.2L76.0 235.0L84.3 236.3L89.3 233.1L100.1 225.3L103.7 222.3L106.6 219.4L109.8 215.0L113.8 208.7L115.6 205.4L120.3 195.7L125.6 187.0L128.2 183.5L130.7 180.5L133.2 178.1L136.4 175.4L141.1 172.2L146.9 168.8L156.2 164.0L162.3 161.4L166.6 160.1L176.7 157.8L182.8 156.9L188.2 156.5L195.0 156.7L202.6 157.3L210.8 158.3L214.1 159.1L218.0 160.7L222.7 163.4L231.3 169.2L234.9 172.1L239.2 176.3L244.6 182.3L248.6 187.4L256.1 197.7L259.4 202.8L261.9 207.3L269.1 223.3L271.2 227.5L274.1 231.9L276.3 234.9L278.1 236.8L279.5 237.8L282.4 238.8L287.1 237.5L291.7 236.4L302.2 234.8L314.7 233.8L332.0 233.3M44.4 233.3L56.3 233.6L66.0 234.1L73.5 234.7L82.1 235.9L82.5 235.8L88.6 232.2L99.4 224.4L103.4 221.2L106.6 217.9L109.8 213.5L113.8 207.1L115.6 203.9L120.3 194.2L126.0 184.9L128.5 181.4L130.7 178.9L133.2 176.5L136.4 173.8L141.1 170.5L146.9 167.1L156.2 162.2L162.3 159.5L166.6 158.2L176.7 155.9L182.8 154.9L188.2 154.5L195.0 154.7L202.6 155.3L210.8 156.4L214.1 157.2L218.0 158.9L222.4 161.3L231.3 167.4L234.6 170.1L239.2 174.6L244.6 180.6L248.6 185.7L256.1 196.1L259.4 201.2L261.9 205.8L269.1 221.8L271.2 226.0L274.1 230.4L276.3 233.4L278.1 235.3L279.5 236.3L284.5 238.2L293.5 236.0L303.6 234.6L315.8 233.8L332.0 233.3M44.4 233.3L64.2 234.0L72.8 234.6L80.3 235.6L80.7 235.5L87.9 231.2L98.3 223.7L102.6 220.3L106.2 216.8L109.5 212.5L113.4 206.2L115.6 202.3L120.6 191.9L126.0 183.3L128.5 179.8L131.0 176.9L133.6 174.5L136.8 171.8L141.5 168.5L147.2 165.1L156.6 160.2L162.7 157.6L167.0 156.2L177.1 153.9L182.8 153.0L188.2 152.6L195.0 152.8L202.2 153.4L210.8 154.5L214.1 155.3L218.0 157.0L222.4 159.5L231.3 165.7L234.6 168.3L239.2 172.9L244.6 178.9L248.6 184.1L256.1 194.5L259.4 199.6L261.9 204.2L269.1 220.2L271.2 224.5L274.1 228.9L276.3 231.9L278.1 233.8L279.5 234.8L283.5 236.4L287.1 237.4L296.1 235.6L305.4 234.5L316.9 233.7L332.0 233.3M44.4 233.3L64.2 234.0L71.7 234.5L78.2 235.3L78.6 235.3L79.6 234.7L86.5 230.7L91.5 227.3L101.2 220.1L103.7 217.9L106.2 215.4L109.5 211.1L113.4 204.8L115.6 200.9L120.6 190.5L126.0 181.9L128.5 178.4L131.0 175.5L133.6 173.1L136.8 170.4L141.5 167.1L147.2 163.7L156.6 158.8L162.7 156.2L167.0 154.8L177.1 152.5L182.8 151.6L188.2 151.2L195.0 151.4L202.2 152.0L210.8 153.1L214.1 153.9L218.0 155.6L222.4 158.1L231.3 164.3L234.6 166.9L239.2 171.5L244.6 177.5L248.6 182.7L256.1 193.1L259.4 198.2L261.9 202.8L269.1 218.8L271.2 223.1L274.1 227.5L276.3 230.5L278.1 232.4L279.5 233.4L285.3 235.5L288.1 236.2L290.7 236.6L298.6 235.2L307.6 234.3L318.3 233.7L332.0 233.3M44.4 233.3L62.7 233.9L76.8 235.0L85.0 230.5L89.7 227.5L100.1 219.8L103.7 216.8L106.6 213.9L109.8 209.5L113.8 203.1L115.6 199.8L120.3 190.1L126.0 180.8L128.5 177.3L130.7 174.7L133.2 172.3L136.4 169.6L141.5 166.0L147.2 162.6L156.6 157.7L162.7 155.0L167.0 153.7L177.1 151.4L182.8 150.4L188.2 150.0L195.0 150.2L202.2 150.8L210.8 151.9L214.1 152.8L218.0 154.5L222.4 157.0L231.3 163.1L234.6 165.8L239.2 170.4L244.6 176.4L248.6 181.5L256.1 192.0L259.4 197.1L261.9 201.7L269.1 217.7L271.2 222.0L275.9 228.9L277.7 230.9L279.2 232.1L282.4 233.5L286.0 234.6L289.2 235.3L292.1 235.5L296.8 235.5L304.3 234.6L312.9 233.9L332.0 233.3M44.4 233.3L62.0 233.8L75.7 234.9L78.6 233.6L85.4 229.7L90.1 226.6L100.1 219.3L103.7 216.3L106.6 213.3L109.8 208.9L113.8 202.5L115.6 199.3L120.3 189.5L126.0 180.2L128.5 176.7L130.7 174.2L133.2 171.7L136.4 169.0L141.5 165.5L147.2 162.1L156.6 157.1L162.7 154.5L167.0 153.1L177.1 150.8L182.8 149.9L188.2 149.5L195.0 149.7L202.2 150.3L210.8 151.4L214.1 152.2L218.0 153.9L222.4 156.4L231.3 162.6L234.6 165.2L239.2 169.8L244.6 175.8L248.6 181.0L256.1 191.4L259.4 196.5L261.9 201.1L269.1 217.2L271.2 221.4L275.9 228.3L277.7 230.4L279.2 231.5L282.0 232.8L285.6 234.0L288.9 234.7L291.7 235.0L302.2 234.8L312.2 234.0L327.3 233.4L332.0 233.0" fill="none" stroke="#ff0000" stroke-width="1.15" stroke-linejoin="round" />
<path d="M44.4 80.8L61.3 81.1L72.8 81.9L77.5 82.5L81.8 83.3L85.7 84.3L89.3 85.5L93.3 87.3L97.2 89.4L101.2 92.1L105.2 95.3L113.4 103.0L118.8 110.3L122.8 114.8L126.4 118.0L130.0 120.4L132.5 121.6L135.4 122.6L138.2 123.4L141.8 124.1L150.1 124.8L162.0 125.2L162.3 125.0L162.7 121.7L163.0 120.2L164.5 116.7L166.6 113.4L169.9 110.1L173.8 107.4L178.1 105.4L183.2 104.0L188.2 103.5L193.6 103.7L198.6 104.8L203.3 106.6L207.6 109.3L209.4 110.7L211.2 112.6L213.7 116.1L214.8 118.2L215.5 120.2L215.9 121.7L216.2 125.0L216.6 125.1L224.5 124.9L230.6 124.5L235.7 123.9L239.6 123.1L242.8 122.0L245.7 120.7L248.2 119.3L250.8 117.4L253.3 115.2L256.1 112.0L259.0 108.4L263.0 103.0L268.4 97.8L272.3 94.4L276.3 91.3L280.2 88.8L284.2 86.7L288.1 85.2L292.1 83.9L296.8 82.9L301.8 82.1L314.0 81.2L332.0 80.8M44.4 80.8L61.3 81.1L72.8 81.9L77.8 82.6L82.1 83.4L86.1 84.4L89.7 85.7L93.7 87.4L97.6 89.7L101.6 92.4L105.5 95.6L113.4 103.0L118.8 110.3L122.8 114.8L126.0 117.7L129.6 120.2L132.1 121.4L134.6 122.4L137.5 123.2L140.7 123.9L148.3 124.7L159.4 125.1L159.8 124.9L160.2 121.4L160.5 119.9L161.2 117.7L162.3 115.3L164.8 111.6L168.1 108.4L170.2 106.8L172.4 105.5L177.1 103.5L182.1 102.3L187.8 101.8L194.3 102.0L199.7 103.0L204.7 104.8L207.3 106.1L209.4 107.6L211.6 109.3L213.4 111.2L214.8 113.0L216.2 115.3L217.3 117.7L218.0 119.9L218.4 121.4L218.8 124.9L219.1 125.1L231.0 124.5L235.3 124.0L239.2 123.2L242.5 122.2L245.4 120.9L248.2 119.3L250.8 117.4L253.3 115.2L256.1 112.0L259.0 108.4L263.0 103.0L268.4 97.8L272.3 94.4L276.3 91.3L280.2 88.8L284.2 86.7L288.1 85.2L292.1 83.9L296.8 82.9L301.8 82.1L314.0 81.2L332.0 80.8M44.4 80.8L61.3 81.1L72.8 81.9L77.8 82.6L82.1 83.4L86.1 84.4L89.7 85.7L93.7 87.4L97.6 89.7L101.6 92.4L105.5 95.6L113.4 103.0L118.5 109.8L122.4 114.4L125.6 117.4L129.2 120.0L131.8 121.3L134.3 122.3L140.0 123.8L147.2 124.7L157.3 125.1L157.6 124.9L158.0 121.1L158.4 119.4L159.1 117.1L160.2 114.6L162.7 110.6L164.5 108.6L166.3 106.9L168.4 105.3L170.6 104.0L175.3 102.0L180.7 100.6L187.1 100.1L194.7 100.3L200.4 101.1L203.3 102.0L205.8 102.9L208.3 104.2L210.8 105.8L213.0 107.5L214.8 109.3L216.6 111.6L218.0 113.9L219.8 118.2L220.6 121.1L220.9 124.9L221.3 125.0L231.7 124.4L235.7 123.9L239.2 123.2L242.5 122.2L245.4 120.9L248.2 119.3L250.8 117.4L253.3 115.2L256.1 112.0L259.0 108.4L263.0 103.0L268.4 97.8L272.3 94.4L276.3 91.3L280.2 88.8L284.2 86.7L288.1 85.2L292.1 83.9L296.8 82.9L301.8 82.1L314.0 81.2L332.0 80.8M44.4 80.8L61.7 81.1L73.2 82.0L78.2 82.6L82.5 83.5L86.5 84.6L90.1 85.8L94.0 87.6L98.0 89.9L101.9 92.7L105.9 95.9L113.4 103.0L118.5 109.8L122.4 114.4L125.6 117.4L128.9 119.7L131.0 120.9L133.6 122.0L136.4 123.0L139.3 123.6L146.1 124.6L155.1 125.0L155.5 124.8L155.8 120.8L156.6 117.6L157.3 115.5L159.1 111.8L161.2 108.7L164.1 105.7L167.7 103.0L171.7 101.0L176.0 99.6L179.6 98.9L183.5 98.5L188.2 98.4L194.3 98.5L197.9 98.8L201.5 99.4L204.7 100.2L207.6 101.3L211.2 103.2L214.1 105.4L216.6 107.8L218.8 110.6L220.6 113.8L222.0 117.6L222.7 120.8L223.1 124.8L223.4 125.0L226.3 124.8L232.8 124.3L237.8 123.5L242.1 122.3L245.7 120.7L249.3 118.5L252.2 116.2L254.7 113.7L258.3 109.4L263.0 103.0L269.1 97.2L273.0 93.8L277.0 90.8L281.0 88.4L284.9 86.4L288.9 84.9L292.8 83.8L297.1 82.8L302.2 82.1L314.0 81.2L332.0 80.8M44.4 80.8L61.7 81.1L73.5 82.0L78.6 82.7L82.9 83.6L86.8 84.7L90.4 86.0L94.4 87.8L98.3 90.1L102.3 92.9L106.2 96.2L113.4 103.0L118.5 109.8L122.4 114.4L125.6 117.4L128.9 119.7L131.0 120.9L133.6 122.0L138.6 123.5L144.7 124.4L153.0 125.0L153.3 124.8L153.7 120.5L154.4 117.1L155.1 114.9L156.9 110.9L159.4 107.1L162.3 104.1L165.9 101.4L169.9 99.4L174.2 98.0L178.1 97.3L182.8 96.8L189.3 96.7L195.7 96.8L199.7 97.2L203.3 97.8L206.5 98.7L209.8 99.9L213.4 101.9L216.2 104.1L218.8 106.7L220.9 109.7L222.7 113.1L224.1 117.1L224.9 120.5L225.2 124.8L232.1 124.4L237.5 123.6L241.8 122.4L245.7 120.7L249.3 118.5L252.2 116.2L254.7 113.7L258.3 109.4L263.0 103.0L269.1 97.2L273.0 93.8L277.0 90.8L281.0 88.4L284.9 86.4L288.9 84.9L292.8 83.8L297.1 82.8L302.2 82.1L314.0 81.2L332.0 80.8M44.4 80.8L62.0 81.2L73.9 82.0L78.9 82.8L83.2 83.7L87.2 84.8L90.8 86.1L94.7 88.0L98.7 90.3L102.6 93.2L106.6 96.5L113.4 103.0L118.5 109.8L122.1 114.1L124.9 116.8L128.2 119.3L132.5 121.6L137.2 123.2L142.9 124.2L150.5 124.9L151.2 118.5L152.2 114.3L154.0 110.0L156.6 105.9L159.8 102.3L163.4 99.6L167.7 97.3L172.4 95.8L176.7 95.0L181.7 94.6L191.1 94.5L197.5 94.6L201.9 95.0L205.8 95.7L209.4 96.8L212.6 98.1L215.5 99.8L218.0 101.7L220.2 103.8L222.4 106.4L224.5 110.0L226.3 114.3L227.4 118.5L228.1 124.7L231.0 124.5L236.4 123.8L241.0 122.6L245.4 120.9L249.0 118.8L251.8 116.5L254.3 114.1L257.9 109.8L263.0 103.0L269.4 96.8L273.4 93.5L277.4 90.6L281.0 88.4L284.9 86.4L288.9 84.9L292.8 83.8L297.1 82.8L302.2 82.1L314.0 81.2L332.0 80.8M44.4 80.8L62.0 81.2L73.9 82.0L78.9 82.8L83.2 83.7L87.2 84.8L91.1 86.3L95.1 88.2L99.0 90.6L103.0 93.5L107.0 96.8L113.4 103.0L118.5 109.8L122.1 114.1L124.9 116.8L127.8 119.0L131.8 121.3L136.1 122.9L141.5 124.0L147.6 124.7L147.9 119.6L148.7 115.6L149.4 113.0L151.5 107.5L154.0 103.3L157.3 99.6L159.1 98.0L161.2 96.4L165.6 94.1L170.6 92.5L175.3 91.7L181.0 91.2L192.5 91.1L199.3 91.3L204.0 91.8L208.0 92.5L211.6 93.6L215.2 95.1L218.8 97.4L221.6 99.9L224.5 103.3L226.7 106.8L228.5 110.8L229.9 115.6L230.6 119.6L231.0 124.5L236.4 123.8L241.0 122.6L245.4 120.9L249.0 118.8L251.8 116.5L254.3 114.1L257.9 109.8L263.0 103.0L269.4 96.8L273.4 93.5L277.4 90.6L281.0 88.4L284.9 86.4L288.9 84.9L292.8 83.8L297.1 82.8L302.2 82.1L314.0 81.2L332.0 80.8M44.4 80.8L62.4 81.2L74.2 82.1L79.3 82.8L83.6 83.8L87.5 84.9L91.5 86.4L95.4 88.4L99.4 90.8L103.4 93.8L107.3 97.2L113.4 103.0L118.1 109.4L121.7 113.7L124.2 116.2L127.1 118.5L130.7 120.7L134.6 122.4L138.9 123.6L144.3 124.4L145.4 116.3L146.5 111.8L148.7 106.0L150.1 103.3L151.5 101.0L153.3 98.7L155.1 96.8L159.1 93.7L161.2 92.4L163.8 91.3L168.8 89.7L173.8 88.9L179.6 88.4L192.9 88.3L200.8 88.5L205.8 89.0L210.1 89.8L213.7 90.9L217.3 92.4L220.9 94.7L224.1 97.5L227.0 101.0L229.2 104.6L231.0 108.5L232.4 113.1L233.1 116.3L233.9 122.4L234.2 124.1L238.9 123.2L242.8 122.0L246.4 120.4L249.7 118.3L252.2 116.2L254.7 113.7L258.3 109.4L263.0 103.0L268.7 97.5L272.7 94.1L276.6 91.1L280.6 88.6L284.5 86.6L288.5 85.0L292.5 83.8L296.8 82.9L301.8 82.1L314.0 81.2L332.0 80.8M44.4 80.8L62.4 81.2L74.6 82.1L79.6 82.9L83.9 83.8L87.9 85.0L91.9 86.6L95.8 88.6L99.8 91.1L103.7 94.1L107.7 97.5L113.4 103.0L117.4 108.4L120.6 112.5L123.5 115.5L126.4 118.0L129.6 120.2L132.8 121.7L136.4 123.0L140.7 123.9L141.1 122.1L141.8 115.8L143.3 109.7L145.4 104.1L148.3 99.1L150.1 96.8L151.9 94.8L155.8 91.6L158.0 90.3L160.5 89.1L163.4 88.0L166.3 87.3L171.7 86.4L178.1 85.9L193.6 85.8L202.2 86.0L207.6 86.4L211.9 87.2L216.2 88.4L219.8 89.9L223.8 92.4L227.0 95.2L229.9 98.6L232.4 102.7L234.6 107.6L236.0 112.3L236.7 115.8L237.5 122.1L237.8 123.5L241.4 122.5L244.6 121.3L247.5 119.7L250.4 117.7L253.3 115.2L256.1 112.0L259.0 108.4L263.0 103.0L268.4 97.8L272.3 94.4L276.3 91.3L280.2 88.8L284.2 86.7L288.1 85.2L292.1 83.9L296.8 82.9L301.8 82.1L314.0 81.2L332.0 80.8M44.4 80.8L62.4 81.2L74.6 82.1L79.6 82.9L84.3 83.9L88.3 85.2L92.2 86.7L96.2 88.8L100.1 91.3L104.1 94.4L108.0 97.8L113.4 103.0L117.4 108.4L120.3 112.0L123.1 115.2L125.6 117.4L128.2 119.3L131.0 120.9L134.3 122.3L137.5 123.2L138.2 115.5L139.7 109.0L141.8 102.9L143.3 100.0L145.1 97.0L146.9 94.6L149.0 92.3L151.2 90.4L153.3 88.8L155.8 87.4L158.4 86.2L161.2 85.2L164.1 84.5L169.9 83.5L176.7 83.1L194.3 83.0L203.7 83.2L209.4 83.6L214.1 84.4L218.4 85.5L222.4 87.2L226.3 89.5L229.9 92.6L233.1 96.5L235.7 100.7L237.8 105.6L239.2 110.3L240.3 115.5L241.0 122.6L243.9 121.6L246.4 120.4L249.0 118.8L251.1 117.1L253.6 114.8L256.5 111.6L263.0 103.0L268.4 97.8L272.3 94.4L276.3 91.3L280.2 88.8L284.2 86.7L288.1 85.2L292.1 83.9L296.8 82.9L301.8 82.1L314.0 81.2L332.0 80.8M44.4 80.8L62.7 81.2L69.2 81.6L75.0 82.2L80.0 83.0L84.7 84.0L88.6 85.3L92.6 86.9L95.8 88.6L99.0 90.6L102.3 92.9L105.5 95.6L113.4 103.0L119.2 110.7L123.8 115.8L126.0 117.7L128.2 119.3L130.7 120.7L133.2 121.9L134.3 113.5L135.0 110.0L136.1 106.1L137.2 103.1L138.6 99.8L140.0 97.1L141.8 94.3L143.6 92.0L145.8 89.7L147.9 87.9L150.1 86.4L152.6 85.0L155.5 83.7L158.4 82.7L161.6 81.9L167.7 81.0L174.9 80.6L195.0 80.5L205.5 80.7L211.6 81.1L216.6 81.8L221.3 83.0L225.2 84.6L229.2 86.9L232.8 89.7L236.0 93.3L238.9 97.7L241.0 102.2L242.8 107.3L244.3 113.5L245.4 120.9L249.3 118.5L253.3 115.2L257.6 110.3L263.0 103.0L270.2 96.2L273.8 93.2L277.0 90.8L280.2 88.8L283.8 86.9L287.8 85.3L291.7 84.0L296.4 83.0L301.4 82.2L307.2 81.6L313.7 81.2L332.0 80.8M44.4 80.8L62.4 81.2L74.6 82.1L79.6 82.9L84.3 83.9L88.3 85.2L92.2 86.7L96.2 88.8L99.8 91.1L103.7 94.1L107.7 97.5L113.4 103.0L118.1 109.4L121.7 113.7L124.2 116.2L126.7 118.3L128.2 108.9L129.2 104.5L130.3 101.1L131.8 97.4L133.2 94.4L135.0 91.3L136.8 88.7L138.9 86.1L141.1 84.0L143.6 82.0L146.1 80.3L149.0 78.9L151.9 77.7L155.1 76.7L158.7 75.9L165.2 75.1L173.5 74.7L197.2 74.6L208.0 74.8L214.8 75.2L220.2 76.0L224.9 77.1L229.2 78.7L233.9 81.2L237.8 84.3L241.4 88.2L244.3 92.5L246.8 97.4L249.0 103.3L250.4 108.9L251.5 115.5L251.8 116.5L254.3 114.1L256.9 111.2L263.0 103.0L268.7 97.5L272.7 94.1L276.6 91.1L280.6 88.6L284.5 86.6L288.5 85.0L292.5 83.8L296.8 82.9L301.8 82.1L314.0 81.2L332.0 80.8M44.4 80.8L61.3 81.1L72.8 81.9L77.8 82.6L82.1 83.4L86.1 84.4L89.7 85.7L93.3 87.3L96.9 89.2L100.5 91.6L104.1 94.4L108.0 97.8L113.4 103.0L117.7 108.9L120.3 99.2L122.8 92.5L124.6 88.8L126.4 85.7L128.5 82.7L130.7 80.2L133.2 77.7L135.7 75.7L138.6 73.8L141.5 72.3L144.7 71.0L147.9 69.9L151.5 69.1L155.8 68.4L162.7 67.7L171.7 67.4L199.3 67.3L211.2 67.5L218.4 67.9L224.1 68.6L229.2 69.5L233.9 71.0L238.9 73.2L243.2 75.9L247.2 79.4L250.4 83.2L253.6 88.1L256.1 93.3L257.9 98.1L260.1 106.1L260.5 106.5L263.0 103.0L269.4 96.8L274.1 92.9L277.7 90.3L281.0 88.4L284.2 86.7L287.8 85.3L291.4 84.1L295.3 83.2L304.3 81.8L315.5 81.1L332.0 80.8M44.4 80.8L59.1 81.0L69.6 81.6L77.8 82.6L85.0 84.1L88.3 85.2L91.5 86.4L97.2 89.4L103.0 93.5L109.1 98.8L110.9 93.0L113.1 87.6L115.6 82.7L118.5 78.3L121.7 74.4L125.3 71.0L129.2 68.2L133.2 66.0L137.2 64.4L141.8 62.9L146.9 61.9L152.6 61.1L158.4 60.7L165.6 60.4L189.3 60.3L213.0 60.4L220.2 60.7L225.9 61.1L231.3 61.8L236.4 62.9L241.0 64.2L245.0 65.8L249.0 68.0L252.9 70.7L256.1 73.7L259.4 77.4L262.3 81.5L264.8 86.1L266.9 91.1L269.1 97.2L274.8 92.4L280.6 88.6L286.3 85.8L292.5 83.8L299.3 82.5L307.6 81.6L317.6 81.0L332.0 80.8M44.4 80.8L63.5 81.2L70.3 81.7L76.0 82.3L81.1 83.2L85.7 84.3L90.1 85.8L94.0 87.6L96.9 85.1L106.2 78.1L108.8 75.9L114.1 69.6L120.3 61.5L122.8 58.8L124.6 57.2L127.4 55.5L130.7 54.4L135.4 53.3L140.0 53.0L151.2 53.8L163.4 53.9L175.6 54.9L188.2 55.1L197.9 55.8L209.1 56.0L222.4 56.5L226.3 56.9L231.0 57.7L241.0 59.8L245.7 61.0L253.6 63.9L255.8 65.2L257.6 66.8L259.4 69.6L262.3 75.5L268.7 87.4L270.5 89.8L273.8 92.8L274.1 92.9L278.8 89.7L283.8 86.9L289.2 84.8L295.0 83.3L301.4 82.2L309.4 81.4L319.1 81.0L332.0 80.8M44.4 80.8L62.7 81.2L69.2 81.6L75.0 82.2L80.0 83.0L84.7 84.0L88.6 85.3L92.6 86.9L92.9 86.8L96.5 83.2L105.9 75.7L108.0 73.8L112.3 68.6L119.9 58.1L122.4 55.1L125.3 52.4L127.1 51.2L129.2 50.1L132.5 48.9L135.7 47.9L138.6 47.3L141.5 47.0L150.8 46.7L163.8 45.7L173.8 45.8L188.2 45.6L209.1 47.2L220.6 48.6L224.1 49.3L230.6 51.0L242.8 54.9L247.5 56.7L252.9 59.3L255.8 61.2L257.9 63.4L259.4 65.9L262.6 72.7L268.7 84.4L270.5 86.9L275.6 91.8L280.6 88.6L285.3 86.3L290.3 84.4L296.1 83.0L302.5 82.0L310.1 81.4L319.4 81.0L332.0 80.8M44.4 80.8L62.0 81.2L73.9 82.0L78.6 82.7L82.9 83.6L86.5 84.6L91.5 86.3L95.8 81.7L105.9 73.1L108.0 71.0L112.3 65.6L119.9 54.5L122.4 51.3L125.6 48.0L129.6 45.5L135.0 43.1L139.7 41.7L142.9 41.1L150.8 40.1L161.6 38.1L165.9 37.6L188.2 36.6L207.3 38.7L214.8 40.0L223.1 42.0L229.9 44.3L242.1 49.5L246.8 51.7L252.6 55.0L254.3 56.2L256.1 57.7L257.2 58.8L258.3 60.3L266.9 78.2L269.8 83.2L273.8 87.6L277.0 90.6L277.4 90.6L282.4 87.6L286.7 85.7L291.7 84.0L297.1 82.8L303.2 82.0L310.8 81.3L319.8 81.0L332.0 80.8M44.4 80.8L61.3 81.1L72.8 81.9L77.5 82.5L81.8 83.3L85.4 84.2L89.7 85.6L90.8 85.1L91.9 84.2L95.8 79.8L107.7 69.0L112.0 63.5L120.3 50.9L122.8 47.6L124.6 45.6L126.0 44.3L130.3 41.3L135.4 38.8L140.0 37.1L150.5 34.7L162.3 31.7L165.9 31.1L177.4 30.0L188.2 29.4L195.7 30.1L206.2 31.6L213.4 33.3L222.0 35.8L228.8 38.6L241.0 44.6L246.4 47.6L252.2 51.3L255.8 54.1L257.2 55.6L258.3 57.3L266.9 75.6L269.8 80.8L274.8 86.5L278.4 89.6L278.8 89.7L284.2 86.7L288.1 85.2L292.8 83.8L298.2 82.6L304.3 81.8L311.5 81.3L332.0 80.8M44.4 80.8L58.1 81.0L68.1 81.5L73.9 82.0L78.9 82.8L83.2 83.7L87.5 84.9L89.7 84.1L90.8 83.5L91.9 82.6L95.8 78.1L107.7 67.0L112.0 61.3L120.3 48.4L123.1 44.5L124.9 42.4L126.4 41.1L130.7 38.0L135.7 35.3L140.0 33.4L150.5 30.5L162.7 26.7L166.3 26.0L177.1 24.6L183.2 24.0L188.2 23.8L196.1 24.6L205.8 26.2L213.0 28.1L221.6 31.1L228.5 34.2L240.3 40.7L246.1 44.2L251.8 48.1L255.4 51.1L257.9 54.1L259.4 56.9L262.3 63.4L267.3 74.2L270.2 79.3L275.9 85.7L278.1 87.6L279.9 88.7L280.2 88.8L284.9 86.4L289.6 84.7L294.3 83.4L299.3 82.5L305.0 81.8L312.2 81.3L332.0 80.8M44.4 80.8L59.5 81.1L69.9 81.6L78.2 82.6L85.4 84.2L90.1 82.5L91.9 81.2L95.8 76.6L107.7 65.2L112.0 59.4L120.3 46.3L123.1 42.3L124.9 40.2L126.4 38.8L131.0 35.3L136.1 32.4L140.4 30.4L150.5 27.2L162.7 23.0L166.3 22.2L177.1 20.5L182.8 19.8L188.2 19.6L195.7 20.4L205.5 22.2L212.3 24.1L220.6 27.1L225.2 29.2L230.6 32.2L242.8 39.5L248.6 43.4L254.0 47.5L257.2 50.9L259.0 54.0L266.9 71.6L269.8 77.0L273.0 80.9L276.3 84.4L278.4 86.2L280.6 87.5L282.0 87.8L286.3 85.8L290.7 84.3L295.7 83.1L301.1 82.2L306.8 81.6L313.3 81.2L332.0 80.8M44.4 80.8L58.1 81.0L68.1 81.5L76.0 82.3L83.2 83.6L86.5 82.6L90.1 81.2L91.9 79.9L95.8 75.3L107.7 63.7L112.0 57.9L120.3 44.5L123.1 40.5L126.4 36.9L131.0 33.4L136.1 30.3L140.4 28.2L163.0 20.1L166.6 19.3L177.1 17.5L182.8 16.8L188.2 16.5L195.7 17.3L205.1 19.1L211.9 21.1L219.8 24.1L224.5 26.3L229.9 29.3L242.5 37.2L248.2 41.2L254.0 45.7L257.2 49.1L259.0 52.3L266.9 70.0L269.8 75.4L273.0 79.5L276.3 83.0L278.4 84.8L280.6 86.1L282.4 86.6L284.5 86.5L289.2 84.8L293.5 83.6L298.6 82.6L304.0 81.9L315.5 81.1L332.0 80.8M44.4 80.8L57.0 81.0L66.3 81.4L73.9 82.0L80.3 83.0L85.0 81.9L90.1 80.0L91.9 78.6L95.8 74.0L107.7 62.4L112.0 56.5L120.3 43.0L123.1 39.0L124.9 36.8L126.7 35.0L131.4 31.5L136.1 28.6L140.4 26.5L163.0 18.1L166.6 17.2L177.1 15.3L182.8 14.6L188.2 14.3L195.7 15.1L205.1 16.9L211.6 18.9L219.5 22.0L224.1 24.1L229.5 27.2L242.1 35.3L248.2 39.6L254.0 44.1L257.2 47.6L259.0 50.8L266.9 68.6L269.8 74.1L272.7 77.7L275.9 81.3L278.1 83.3L280.2 84.7L282.4 85.3L286.7 85.1L289.6 84.7L293.5 83.6L298.2 82.6L307.9 81.5L318.0 81.0L332.0 80.8M44.4 80.8L64.2 81.3L71.0 81.7L77.5 82.5L80.3 82.1L83.2 81.5L86.5 80.5L90.1 79.1L91.9 77.7L95.8 73.1L105.5 63.7L107.7 61.4L112.0 55.5L120.3 42.0L123.1 37.9L124.9 35.7L126.7 34.0L131.4 30.4L136.1 27.5L140.4 25.3L163.0 16.8L166.6 15.8L177.1 13.9L182.8 13.2L188.2 12.9L195.7 13.7L204.7 15.5L211.2 17.4L219.1 20.5L224.1 22.9L229.5 26.0L242.1 34.1L248.2 38.5L254.0 43.1L257.2 46.6L259.0 49.8L266.9 67.6L269.8 73.1L272.7 76.8L275.9 80.4L278.1 82.3L280.2 83.7L282.0 84.3L284.5 84.3L296.4 83.0L302.2 82.1L307.9 81.5L318.0 81.0L332.0 80.8M44.4 80.8L58.1 81.0L72.8 81.6L77.5 81.6L80.3 81.3L83.2 80.7L86.5 79.7L90.1 78.2L91.9 76.9L95.8 72.3L105.5 62.9L107.7 60.6L112.0 54.7L120.3 41.2L123.1 37.1L124.9 34.9L126.7 33.1L131.4 29.6L136.1 26.6L140.4 24.5L163.0 15.9L166.6 15.0L177.1 13.1L182.8 12.3L188.2 12.0L195.7 12.9L204.7 14.6L211.2 16.6L219.1 19.7L224.1 22.0L229.5 25.1L242.1 33.3L248.2 37.6L254.0 42.3L257.2 45.8L259.0 49.0L266.9 66.8L269.8 72.3L272.7 75.9L275.9 79.5L278.1 81.5L280.2 82.9L282.0 83.5L284.2 83.5L295.0 82.3L304.3 81.6L318.3 81.0L332.0 80.8" fill="none" stroke="#ff0000" stroke-width="1.15" stroke-linejoin="round" />
<path d="M188.3 12.8L188.3 165.5M188.3 12.8L327.4 79.9M188.3 165.5L327.3 231.0M327.4 79.9L327.4 231.0" fill="none" stroke="#000" stroke-width="1.3" stroke-dasharray="4 2.3"/>
<circle cx="140.0" cy="580.6" r="3.1" fill="#ffa500"/>
<circle cx="489.1" cy="580.7" r="3.1" fill="#ffa500"/>
<circle cx="110.6" cy="750.0" r="3.1" fill="#ffa500"/>
<circle cx="459.4" cy="750.0" r="3.1" fill="#ffa500"/>
<path d="M139.3 580.4C139.9 580.5 141.7 581.6 142.9 581.3C144.1 581.0 145.0 579.6 146.4 578.6C147.8 577.6 149.3 576.8 151.1 575.1C152.8 573.5 155.2 570.6 156.9 568.7C158.6 566.8 159.8 565.6 161.5 563.8C163.2 562.0 164.9 560.2 167.0 558.0C169.1 555.8 171.9 552.4 174.0 550.4C176.1 548.4 177.9 547.0 179.3 546.1C180.7 545.2 181.2 545.2 182.2 545.2C183.2 545.2 184.3 545.6 185.1 546.4C185.9 547.2 186.4 548.1 186.9 549.9C187.4 551.6 187.7 554.4 188.0 556.9C188.3 559.4 188.4 561.7 188.6 565.0C188.8 568.3 189.0 573.2 189.0 576.7C189.0 580.2 188.8 583.4 188.6 586.1C188.4 588.8 188.4 591.2 188.0 593.1C187.6 595.0 187.1 596.5 186.3 597.2C185.5 597.9 184.4 597.8 183.4 597.5C182.4 597.2 181.0 596.0 180.4 595.4C179.8 594.8 179.4 594.3 179.9 594.0C180.4 593.7 181.7 593.8 183.4 593.6C185.2 593.5 187.5 593.2 190.4 593.1C193.3 593.0 197.6 593.1 200.9 592.8C204.2 592.5 207.5 592.1 210.2 591.3C212.9 590.5 215.0 589.2 217.2 587.8C219.3 586.3 220.9 585.0 223.1 582.6C225.2 580.2 228.0 576.1 230.1 573.2C232.2 570.3 234.2 567.2 235.9 565.0C237.6 562.8 238.3 562.7 240.3 560.0C242.3 557.3 244.6 553.7 248.1 548.8C251.6 543.9 256.9 536.3 261.3 530.4C265.7 524.5 270.0 519.1 274.4 513.4C278.8 507.7 284.1 500.7 287.6 496.3C291.1 491.9 293.2 489.5 295.4 487.1C297.6 484.7 299.5 482.9 300.7 481.8C301.9 480.8 302.0 480.7 302.7 480.8C303.4 480.9 304.0 481.0 304.6 482.5C305.2 484.0 305.9 486.8 306.6 489.7C307.3 492.6 308.0 496.2 308.6 500.2C309.2 504.1 309.9 508.6 310.5 513.4C311.1 518.2 311.6 524.1 311.9 529.1C312.2 534.1 312.4 538.5 312.5 543.6C312.6 548.8 312.6 553.9 312.6 560.0C312.6 566.1 312.7 573.6 312.6 580.0C312.6 586.4 312.4 592.4 312.3 598.6C312.2 604.8 312.2 612.0 312.0 617.2C311.8 622.4 311.5 626.1 311.3 629.6C311.1 633.1 310.2 636.4 310.7 638.3C311.2 640.2 313.9 640.5 314.5 641.0" fill="none" stroke="#0000ff" stroke-width="1.3" stroke-linejoin="round"/>
<path d="M314.5 641.0C313.2 640.9 309.1 640.6 307.0 640.4C304.9 640.2 304.5 639.9 302.0 639.6C299.5 639.3 295.2 638.8 292.1 638.6C289.0 638.4 286.8 638.3 283.4 638.3C280.0 638.3 274.3 638.5 272.0 638.6C269.7 638.7 270.4 639.2 269.8 638.9C269.2 638.5 269.1 637.0 268.5 636.5C267.9 636.0 267.1 635.9 266.1 635.8C265.1 635.6 263.3 635.5 262.3 635.6C261.3 635.7 260.7 636.5 259.9 636.5C259.1 636.5 258.2 635.7 257.4 635.8C256.6 635.9 255.7 637.2 254.9 637.3C254.1 637.4 253.2 636.5 252.4 636.5C251.6 636.5 250.7 637.4 249.9 637.3C249.1 637.2 249.1 636.1 247.4 635.8C245.8 635.4 243.6 635.5 240.0 635.2C236.4 635.0 230.3 634.8 225.7 634.3C221.1 633.8 217.0 632.9 212.6 632.0C208.2 631.1 203.8 630.0 199.4 628.8C195.0 627.6 190.7 626.3 186.3 624.8C181.9 623.3 177.6 621.4 173.1 619.6C168.6 617.8 163.8 615.8 159.6 614.1C155.3 612.4 151.5 611.1 147.6 609.2C143.7 607.3 139.4 604.8 135.9 602.8C132.4 600.8 129.4 599.4 126.5 597.5C123.6 595.6 120.7 593.7 118.4 591.7C116.1 589.8 114.2 587.8 112.5 585.8C110.8 583.8 109.4 582.1 108.4 580.0C107.4 577.9 107.0 575.0 106.7 573.4C106.5 571.8 106.6 570.8 106.9 570.1C107.2 569.4 108.3 569.5 108.4 569.3C108.5 569.0 108.2 568.6 107.5 568.6C106.8 568.6 104.9 569.5 104.3 569.3C103.7 569.1 103.4 568.0 103.8 567.5C104.2 567.0 105.2 566.6 106.7 566.4C108.2 566.2 110.5 566.1 112.5 566.4C114.5 566.7 116.7 567.3 118.4 568.1C120.2 568.9 121.7 570.0 123.0 571.0C124.3 572.0 125.3 573.3 126.5 573.9C127.7 574.5 127.5 574.4 130.0 574.5C132.5 574.6 138.2 574.6 141.7 574.8C145.2 575.0 148.0 575.1 151.1 575.5C154.2 575.9 157.5 576.6 160.4 577.4C163.3 578.2 166.3 579.5 168.6 580.4C170.9 581.3 171.5 581.4 174.0 582.6C176.5 583.8 180.3 586.0 183.4 587.8C186.5 589.5 189.8 591.6 192.7 593.1C195.6 594.6 198.7 595.8 200.9 596.6C203.1 597.4 203.0 596.8 206.0 597.9C209.0 599.0 214.7 601.4 219.1 603.1C223.5 604.9 228.8 607.2 232.3 608.4C235.8 609.6 236.7 609.3 240.0 610.4C243.3 611.5 248.3 613.2 252.4 614.7C256.5 616.2 260.7 617.7 264.8 619.1C268.9 620.5 273.5 622.0 277.2 623.4C280.9 624.8 284.5 626.5 287.2 627.8C289.9 629.0 291.6 629.8 293.4 630.9C295.1 632.0 296.8 633.7 297.7 634.6C298.6 635.5 298.4 636.4 298.9 636.5C299.4 636.6 300.1 635.3 300.8 635.2C301.5 635.1 302.6 635.4 303.3 635.8C304.0 636.2 304.3 637.1 305.1 637.7C305.9 638.3 306.6 639.1 308.2 639.6C309.8 640.1 313.4 640.8 314.5 641.0" fill="none" stroke="#0000ff" stroke-width="1.3" stroke-linejoin="round"/>
<path d="M314.5 641.0C313.2 641.0 310.1 640.9 307.0 640.8C303.9 640.7 299.7 639.9 295.8 640.2C291.9 640.5 287.5 642.0 283.4 642.7C279.3 643.4 274.2 644.1 271.0 644.3C267.8 644.5 265.4 644.5 264.2 643.9C263.0 643.3 263.8 641.6 263.6 640.8C263.4 640.0 263.9 639.3 263.0 638.9C262.1 638.5 260.2 638.8 258.0 638.6C255.8 638.5 253.2 638.3 250.0 638.0C246.8 637.7 242.9 637.2 238.8 636.8C234.8 636.4 230.1 636.0 225.7 635.4C221.3 634.8 217.0 634.0 212.6 633.1C208.2 632.2 203.8 631.0 199.4 629.8C195.0 628.6 190.7 627.3 186.3 625.8C181.9 624.2 177.5 622.3 173.1 620.5C168.7 618.7 162.2 615.8 160.0 614.8" fill="none" stroke="#0000ff" stroke-width="1.3" stroke-linejoin="round"/>
<path d="M487.8 580.3C488.2 580.4 489.7 581.0 490.2 581.2C490.7 581.4 490.0 582.0 491.0 581.4C492.0 580.8 494.1 579.1 496.3 577.4C498.5 575.6 501.4 573.5 504.2 570.9C507.0 568.3 510.3 564.8 513.4 561.7C516.5 558.6 520.2 554.9 522.6 552.5C525.0 550.1 526.5 548.3 527.8 547.2C529.1 546.1 529.5 546.0 530.4 545.9C531.3 545.8 532.3 546.1 533.1 546.8C533.9 547.5 534.5 548.2 535.0 549.9C535.5 551.6 536.0 554.4 536.4 557.1C536.8 559.8 537.1 563.0 537.3 566.3C537.5 569.6 537.7 573.5 537.7 576.8C537.7 580.1 537.6 583.1 537.4 586.0C537.2 588.9 536.8 592.0 536.4 593.9C536.0 595.8 535.5 596.6 535.0 597.2C534.5 597.9 534.0 598.0 533.1 597.8C532.2 597.6 530.6 596.4 529.8 595.8C529.0 595.1 528.2 594.3 528.5 593.9C528.8 593.5 530.2 593.3 531.8 593.2C533.4 593.1 535.5 593.4 538.3 593.2C541.1 593.1 546.0 592.5 548.8 592.3C551.6 592.0 552.8 592.2 555.0 591.7C557.2 591.2 559.9 591.0 562.3 589.5C564.7 588.0 567.2 585.5 569.6 583.0C572.0 580.5 573.2 578.8 576.8 574.2C580.4 569.6 586.5 561.6 591.4 555.3C596.3 549.0 601.1 542.9 606.0 536.4C610.9 529.9 616.5 521.9 620.5 516.0C624.5 510.1 627.0 505.5 630.3 500.9C633.6 496.3 637.4 492.4 640.5 488.6C643.6 484.8 646.8 480.5 648.7 478.3C650.6 476.1 650.8 475.6 651.8 475.3C652.8 475.0 654.0 475.3 654.9 476.3C655.8 477.3 656.3 478.1 657.0 481.4C657.7 484.6 658.4 490.0 659.0 495.8C659.6 501.6 660.0 507.7 660.4 516.3C660.8 524.8 661.2 536.8 661.5 547.1C661.8 557.4 662.0 567.6 662.1 577.9C662.2 588.2 662.3 600.2 662.3 608.7C662.3 617.2 662.1 623.9 661.9 629.2C661.7 634.5 661.3 638.5 661.1 640.5C660.9 642.5 661.1 641.3 660.6 641.1C660.1 640.9 659.0 639.8 658.0 639.5C657.0 639.2 655.8 639.0 654.9 639.1C654.0 639.2 655.2 639.8 652.8 639.9C650.4 640.0 644.2 640.0 640.5 639.9C636.8 639.8 633.7 639.4 630.3 639.5C626.9 639.6 622.1 640.5 620.0 640.5C617.9 640.5 618.4 640.0 617.9 639.3C617.4 638.6 617.6 636.9 616.9 636.4C616.2 635.9 614.9 636.2 613.6 636.0C612.3 635.8 610.7 635.3 609.2 635.3C607.7 635.3 608.1 636.1 604.8 636.0C601.5 635.9 595.7 635.6 589.5 634.9C583.3 634.2 574.9 633.2 567.6 632.0C560.3 630.8 553.0 629.6 545.7 627.7C538.4 625.8 531.1 623.5 523.8 620.7C516.5 617.9 508.7 614.2 501.9 610.8C495.1 607.4 488.4 603.4 483.1 600.4C477.8 597.4 473.7 595.0 470.2 592.6C466.7 590.2 464.5 588.4 462.3 586.0C460.1 583.6 458.2 580.4 457.1 578.1C456.0 575.8 455.9 573.5 455.8 572.0C455.7 570.5 456.7 569.6 456.6 569.2C456.5 568.8 455.8 569.6 455.3 569.4C454.8 569.2 454.3 568.4 453.8 567.9C453.3 567.4 453.1 566.5 452.5 566.3C451.9 566.1 450.8 566.5 450.5 566.9C450.2 567.3 451.1 568.5 450.5 568.9C449.9 569.3 448.4 569.4 446.6 569.2C444.9 569.0 441.8 568.1 440.0 567.6C438.2 567.1 437.1 566.6 436.0 566.5C434.9 566.4 436.0 566.2 433.4 566.7C430.8 567.2 424.7 568.4 420.3 569.6C415.9 570.8 411.4 572.5 407.1 573.9C402.8 575.3 396.8 577.4 394.7 578.1" fill="none" stroke="#0000ff" stroke-width="1.3" stroke-linejoin="round"/>
<path d="M110.5 750.0C112.3 750.1 117.8 750.5 121.3 750.9C124.8 751.2 129.8 751.6 131.8 752.1C133.9 752.6 132.4 753.4 133.6 753.9C134.8 754.4 135.0 754.3 138.8 755.0C142.6 755.7 150.4 757.0 156.4 757.9C162.4 758.8 168.0 759.4 175.0 760.2C182.0 761.0 190.6 761.9 198.4 762.5C206.2 763.1 213.9 763.5 221.7 763.9C229.5 764.3 237.3 764.4 245.1 764.8C252.9 765.2 262.6 765.6 268.4 766.3C274.2 767.0 276.6 767.7 280.1 769.1C283.6 770.5 287.0 772.6 289.5 774.9C292.0 777.2 293.8 780.4 295.3 783.1C296.8 785.8 297.4 787.9 298.5 791.0C299.6 794.1 301.0 798.0 301.7 801.7C302.4 805.4 302.2 809.5 302.6 813.4C303.0 817.3 303.5 820.7 304.1 825.0C304.7 829.3 305.8 834.8 306.4 839.1C307.0 843.4 307.3 846.8 307.6 850.7C307.9 854.6 308.2 860.1 308.1 862.4C308.0 864.6 308.1 864.0 307.0 864.2C305.9 864.4 303.0 863.8 301.7 863.6C300.4 863.4 300.4 862.8 299.4 863.0C298.4 863.2 297.5 863.9 295.9 864.7C294.3 865.5 292.3 866.9 290.0 867.7C287.7 868.5 284.8 869.3 281.9 869.4C279.0 869.5 275.8 868.9 272.5 868.2C269.2 867.5 264.5 866.3 262.0 865.3C259.5 864.3 258.4 863.5 257.3 862.4C256.2 861.3 256.5 859.7 255.6 858.9C254.7 858.1 253.5 857.4 252.1 857.4C250.7 857.4 248.2 858.9 246.9 858.8C245.6 858.7 245.1 856.9 244.2 856.6C243.3 856.3 243.2 857.5 241.6 857.1C240.0 856.8 237.5 855.5 234.6 854.5C231.7 853.5 227.3 852.3 224.1 851.0C220.9 849.7 218.2 848.5 215.3 846.6C212.4 844.7 210.4 842.7 206.6 839.6C202.8 836.5 197.9 832.4 192.6 828.0C187.3 823.6 180.8 818.2 175.0 813.4C169.2 808.6 163.3 803.8 157.5 799.0C151.7 794.2 146.0 789.5 140.0 784.5C134.0 779.5 128.8 775.2 121.3 769.0C113.8 762.8 102.9 753.8 95.0 747.3C87.1 740.8 77.7 733.2 74.0 729.9C70.3 726.6 69.1 727.4 72.6 727.3C76.1 727.1 86.9 728.4 95.0 729.0C103.1 729.6 112.5 730.3 121.3 730.8C130.1 731.3 138.7 731.6 147.6 731.9C156.5 732.2 166.5 732.1 175.0 732.4C183.5 732.7 190.6 733.1 198.4 733.5C206.2 733.9 213.9 734.3 221.7 734.7C229.5 735.1 238.1 735.5 245.1 735.9C252.1 736.2 258.8 736.4 263.8 736.8C268.9 737.2 271.9 737.3 275.4 738.2C278.9 739.1 282.1 740.6 284.8 742.2C287.5 743.8 289.5 745.1 291.8 748.0C294.1 750.9 296.9 755.4 298.8 759.7C300.8 764.0 302.1 768.6 303.5 773.7C304.9 778.8 306.1 785.4 307.0 790.1C307.9 794.8 308.1 797.8 308.7 801.7C309.3 805.6 309.9 808.5 310.5 813.4C311.1 818.3 311.8 825.1 312.2 830.9C312.6 836.7 313.0 843.5 313.2 848.4C313.4 853.3 313.6 856.6 313.4 860.1C313.2 863.6 312.8 868.0 312.2 869.4C311.6 870.8 311.1 868.9 309.9 868.2C308.7 867.5 306.6 866.1 305.2 865.3C303.8 864.5 302.9 863.9 301.7 863.6C300.5 863.3 300.1 863.1 298.2 863.3C296.2 863.5 293.3 864.3 290.0 864.7C286.7 865.1 282.3 866.0 278.4 865.9C274.5 865.8 270.2 865.2 266.7 864.2C263.2 863.2 259.2 861.1 257.3 860.1C255.4 859.1 255.4 858.6 255.0 858.3" fill="none" stroke="#0000ff" stroke-width="1.3" stroke-linejoin="round"/>
<path d="M459.8 750.1C460.5 750.1 460.5 750.1 464.1 750.4C467.7 750.7 478.5 751.5 481.6 752.1C484.7 752.7 481.0 753.4 482.5 753.9C484.0 754.4 485.1 754.1 490.4 755.0C495.6 755.9 506.6 758.0 514.0 759.1C521.4 760.2 527.2 761.0 534.8 761.8C542.4 762.5 551.3 763.2 559.6 763.6C567.9 764.0 576.2 764.0 584.5 764.3C592.8 764.6 602.7 764.8 609.3 765.3C615.9 765.8 620.1 766.3 624.2 767.3C628.3 768.2 631.2 769.4 634.1 771.0C637.0 772.6 639.4 774.5 641.5 777.2C643.6 779.9 645.0 783.1 646.5 787.2C648.0 791.3 649.4 797.5 650.2 802.0C651.0 806.5 650.9 809.1 651.5 814.5C652.1 819.9 653.2 828.1 654.0 834.3C654.8 840.5 655.9 846.7 656.4 851.7C656.9 856.7 657.7 862.1 656.9 864.1C656.1 866.1 653.6 863.8 651.5 863.6C649.4 863.4 646.9 862.7 644.0 862.9C641.1 863.1 637.0 864.3 634.1 864.8C631.2 865.3 630.0 866.2 626.7 866.1C623.4 866.0 617.9 865.3 614.2 864.1C610.5 862.9 606.4 860.0 604.3 859.1C602.2 858.2 603.0 858.6 601.8 858.6C600.6 858.6 598.5 859.4 596.9 859.1C595.2 858.8 594.8 857.7 591.9 856.7C589.0 855.7 583.2 854.1 579.5 852.9C575.8 851.6 572.5 850.7 569.6 849.2C566.7 847.8 565.8 847.5 562.1 844.2C558.4 840.9 551.8 833.6 547.2 829.4C542.7 825.2 538.9 822.5 534.8 819.2C530.7 815.9 526.5 812.8 522.4 809.5C518.3 806.2 515.3 803.7 510.0 799.6C504.7 795.5 496.6 789.9 490.4 785.1C484.2 780.4 478.6 775.8 472.8 771.1C467.0 766.4 461.1 761.7 455.3 757.0C449.5 752.3 443.2 747.5 437.8 743.0C432.4 738.5 425.8 732.7 422.9 729.9C420.0 727.1 423.5 727.6 420.3 726.4C417.1 725.2 406.4 723.5 403.6 722.9" fill="none" stroke="#0000ff" stroke-width="1.3" stroke-linejoin="round"/>
<path d="M44.4 421.4v2.5M80.35 421.4v2.5M116.3 421.4v2.5M152.25 421.4v2.5M188.2 421.4v2.5M224.15 421.4v2.5M260.1 421.4v2.5M296.05 421.4v2.5M332 421.4v2.5" stroke="#000" stroke-width="1.1"/>
<path d="M44.4 421.4h-2.5M44.4 365.42h-2.5M44.4 309.44h-2.5M44.4 253.46h-2.5M44.4 197.48h-2.5M44.4 141.5h-2.5M44.4 85.52h-2.5M44.4 29.54h-2.5" stroke="#000" stroke-width="1.1"/>
<text x="41.2" y="425.9" font-size="17" text-anchor="end" >0</text>
<text x="41.2" y="369.92" font-size="17" text-anchor="end" >0.2</text>
<text x="41.2" y="313.94" font-size="17" text-anchor="end" >0.4</text>
<text x="41.2" y="257.96" font-size="17" text-anchor="end" >0.6</text>
<text x="41.2" y="201.98" font-size="17" text-anchor="end" >0.8</text>
<text x="41.2" y="146" font-size="17" text-anchor="end" >1</text>
<text x="41.2" y="90.02" font-size="17" text-anchor="end" >1.2</text>
<text x="41.2" y="34.04" font-size="17" text-anchor="end" >1.4</text>
<text x="43.8" y="437.8" font-size="17" text-anchor="middle" >−2</text>
<text x="115.7" y="437.8" font-size="17" text-anchor="middle" >−1</text>
<text x="188.2" y="437.8" font-size="17" text-anchor="middle" >0</text>
<text x="260.1" y="437.8" font-size="17" text-anchor="middle" >1</text>
<text x="332" y="437.8" font-size="17" text-anchor="middle" >2</text>
<text x="188.2" y="452" font-size="17" text-anchor="middle" ><tspan font-style="italic">x</tspan>, km</text>
<text x="0" y="15" font-size="17" text-anchor="start" >a)</text>
<text transform="translate(16.4,211.5) rotate(-90)" font-size="19.2" text-anchor="middle">Slip, m</text>
<text x="51.4" y="18" font-size="20" text-anchor="start" >EQ</text>
<path d="M393.4 421.4v2.5M429.35 421.4v2.5M465.3 421.4v2.5M501.25 421.4v2.5M537.2 421.4v2.5M573.15 421.4v2.5M609.1 421.4v2.5M645.05 421.4v2.5M681 421.4v2.5" stroke="#000" stroke-width="1.1"/>
<path d="M393.4 421.4h-2.5M393.4 365.42h-2.5M393.4 309.44h-2.5M393.4 253.46h-2.5M393.4 197.48h-2.5M393.4 141.5h-2.5M393.4 85.52h-2.5M393.4 29.54h-2.5" stroke="#000" stroke-width="1.1"/>
<text x="390.2" y="425.9" font-size="17" text-anchor="end" >0</text>
<text x="390.2" y="369.92" font-size="17" text-anchor="end" >0.2</text>
<text x="390.2" y="313.94" font-size="17" text-anchor="end" >0.4</text>
<text x="390.2" y="257.96" font-size="17" text-anchor="end" >0.6</text>
<text x="390.2" y="201.98" font-size="17" text-anchor="end" >0.8</text>
<text x="390.2" y="146" font-size="17" text-anchor="end" >1</text>
<text x="390.2" y="90.02" font-size="17" text-anchor="end" >1.2</text>
<text x="390.2" y="34.04" font-size="17" text-anchor="end" >1.4</text>
<text x="392.8" y="437.8" font-size="17" text-anchor="middle" >−2</text>
<text x="464.7" y="437.8" font-size="17" text-anchor="middle" >−1</text>
<text x="537.2" y="437.8" font-size="17" text-anchor="middle" >0</text>
<text x="609.1" y="437.8" font-size="17" text-anchor="middle" >1</text>
<text x="681" y="437.8" font-size="17" text-anchor="middle" >2</text>
<text x="537.2" y="452" font-size="17" text-anchor="middle" ><tspan font-style="italic">x</tspan>, km</text>
<text x="349.3" y="15" font-size="17" text-anchor="start" >b)</text>
<text transform="translate(364.91,211.5) rotate(-90)" font-size="19.2" text-anchor="middle">Slip, m</text>
<text x="400.4" y="18" font-size="20" text-anchor="start" >ST</text>
<rect x="44.4" y="1.3" width="287.6" height="420.1" fill="none" stroke="#000" stroke-width="1.3"/>
<rect x="393.4" y="1.3" width="287.6" height="420.1" fill="none" stroke="#000" stroke-width="1.3"/>
<path d="M64.23 650.9v2.5M140.77 650.9v2.5M217.3 650.9v2.5M293.83 650.9v2.5M102.5 650.9v2.5M179.03 650.9v2.5M255.57 650.9v2.5M332.1 650.9v2.5" stroke="#000" stroke-width="1.1"/>
<path d="M45.1 650.9h-2.5M45.1 580.96h-2.5M45.1 511.02h-2.5M45.1 464.4h-2.5M45.1 627.59h-2.5M45.1 604.27h-2.5M45.1 557.65h-2.5M45.1 534.34h-2.5M45.1 487.71h-2.5" stroke="#000" stroke-width="1.1"/>
<text x="41.9" y="656.4" font-size="17" text-anchor="end" >−6</text>
<text x="41.9" y="586.46" font-size="17" text-anchor="end" >0</text>
<text x="41.9" y="516.52" font-size="17" text-anchor="end" >6</text>
<text x="41.9" y="469.9" font-size="17" text-anchor="end" >10</text>
<text x="63.63" y="667.4" font-size="17" text-anchor="middle" >−4</text>
<text x="140.77" y="667.4" font-size="17" text-anchor="middle" >0</text>
<text x="217.3" y="667.4" font-size="17" text-anchor="middle" >4</text>
<text x="293.83" y="667.4" font-size="17" text-anchor="middle" >8</text>
<text x="51.6" y="482.2" font-size="20" text-anchor="start" >EQ, center</text>
<text x="0" y="469.1" font-size="17" text-anchor="start" >c)</text>
<text x="188.6" y="683.3" font-size="17" text-anchor="middle">log<tspan font-size="11.5" dy="4">10</tspan><tspan dy="-4">(</tspan><tspan font-style="italic">V</tspan>/<tspan font-style="italic">V</tspan><tspan font-size="11.5" dy="3">*</tspan><tspan dy="-3">)</tspan></text>
<text transform="translate(21.6,557.65) rotate(-90)" font-size="18" text-anchor="middle">(<tspan font-style="italic">τ</tspan> − <tspan font-style="italic">σf</tspan><tspan font-size="12" dx="0.5" dy="3.5">*</tspan><tspan font-size="12" dx="-3.5" dy="-11">w</tspan><tspan dx="0.5" dy="7.5">) / </tspan><tspan font-style="italic">a</tspan><tspan font-size="12" dy="-7.5">w</tspan><tspan font-style="italic" dy="7.5">σ</tspan></text>
<rect x="45.1" y="464.4" width="287" height="186.5" fill="none" stroke="#000" stroke-width="1.3"/>
<path d="M413.13 650.9v2.5M489.67 650.9v2.5M566.2 650.9v2.5M642.73 650.9v2.5M451.4 650.9v2.5M527.93 650.9v2.5M604.47 650.9v2.5M681 650.9v2.5" stroke="#000" stroke-width="1.1"/>
<path d="M394 650.9h-2.5M394 580.96h-2.5M394 511.02h-2.5M394 464.4h-2.5M394 627.59h-2.5M394 604.27h-2.5M394 557.65h-2.5M394 534.34h-2.5M394 487.71h-2.5" stroke="#000" stroke-width="1.1"/>
<text x="390.8" y="656.4" font-size="17" text-anchor="end" >−6</text>
<text x="390.8" y="586.46" font-size="17" text-anchor="end" >0</text>
<text x="390.8" y="516.52" font-size="17" text-anchor="end" >6</text>
<text x="390.8" y="469.9" font-size="17" text-anchor="end" >10</text>
<text x="412.53" y="667.4" font-size="17" text-anchor="middle" >−4</text>
<text x="489.67" y="667.4" font-size="17" text-anchor="middle" >0</text>
<text x="566.2" y="667.4" font-size="17" text-anchor="middle" >4</text>
<text x="642.73" y="667.4" font-size="17" text-anchor="middle" >8</text>
<text x="400.5" y="482.2" font-size="20" text-anchor="start" >ST, center</text>
<text x="348.9" y="469.1" font-size="17" text-anchor="start" >d)</text>
<text x="537.5" y="683.3" font-size="17" text-anchor="middle">log<tspan font-size="11.5" dy="4">10</tspan><tspan dy="-4">(</tspan><tspan font-style="italic">V</tspan>/<tspan font-style="italic">V</tspan><tspan font-size="11.5" dy="3">*</tspan><tspan dy="-3">)</tspan></text>
<text transform="translate(370.5,557.65) rotate(-90)" font-size="18" text-anchor="middle">(<tspan font-style="italic">τ</tspan> − <tspan font-style="italic">σf</tspan><tspan font-size="12" dx="0.5" dy="3.5">*</tspan><tspan font-size="12" dx="-3.5" dy="-11">w</tspan><tspan dx="0.5" dy="7.5">) / </tspan><tspan font-style="italic">a</tspan><tspan font-size="12" dy="-7.5">w</tspan><tspan font-style="italic" dy="7.5">σ</tspan></text>
<rect x="394" y="464.4" width="287" height="186.5" fill="none" stroke="#000" stroke-width="1.3"/>
<path d="M67.18 888v2.5M111.33 888v2.5M199.64 888v2.5M287.95 888v2.5M155.48 888v2.5M243.79 888v2.5M332.1 888v2.5" stroke="#000" stroke-width="1.1"/>
<path d="M45.1 888h-2.5M45.1 841.42h-2.5M45.1 794.85h-2.5M45.1 748.28h-2.5M45.1 701.7h-2.5M45.1 864.71h-2.5M45.1 818.14h-2.5M45.1 771.56h-2.5M45.1 724.99h-2.5" stroke="#000" stroke-width="1.1"/>
<text x="41.9" y="893.5" font-size="17" text-anchor="end" >−6</text>
<text x="41.9" y="846.92" font-size="17" text-anchor="end" >−4</text>
<text x="41.9" y="800.35" font-size="17" text-anchor="end" >−2</text>
<text x="41.9" y="753.78" font-size="17" text-anchor="end" >0</text>
<text x="41.9" y="707.2" font-size="17" text-anchor="end" >2</text>
<text x="66.58" y="904.5" font-size="17" text-anchor="middle" >−2</text>
<text x="111.33" y="904.5" font-size="17" text-anchor="middle" >0</text>
<text x="199.64" y="904.5" font-size="17" text-anchor="middle" >4</text>
<text x="287.95" y="904.5" font-size="17" text-anchor="middle" >8</text>
<text x="51.6" y="719.5" font-size="20" text-anchor="start" >EQ, rw average</text>
<text x="0" y="706.4" font-size="17" text-anchor="start" >e)</text>
<text x="188.6" y="920.4" font-size="17" text-anchor="middle">log<tspan font-size="11.5" dy="4">10</tspan><tspan dy="-4">(</tspan><tspan font-style="italic" text-decoration="overline">V</tspan>/<tspan font-style="italic">V</tspan><tspan font-size="11.5" dy="3">*</tspan><tspan dy="-3">)</tspan></text>
<text transform="translate(21.6,794.85) rotate(-90)" font-size="18" text-anchor="middle">(<tspan font-style="italic" text-decoration="overline">τ</tspan> − <tspan font-style="italic">σf</tspan><tspan font-size="12" dx="0.5" dy="3.5">*</tspan><tspan font-size="12" dx="-3.5" dy="-11">w</tspan><tspan dx="0.5" dy="7.5">) / </tspan><tspan font-style="italic">a</tspan><tspan font-size="12" dy="-7.5">w</tspan><tspan font-style="italic" dy="7.5">σ</tspan></text>
<rect x="45.1" y="701.7" width="287" height="186.3" fill="none" stroke="#000" stroke-width="1.3"/>
<path d="M416.08 888v2.5M460.23 888v2.5M548.54 888v2.5M636.85 888v2.5M504.38 888v2.5M592.69 888v2.5M681 888v2.5" stroke="#000" stroke-width="1.1"/>
<path d="M394 888h-2.5M394 841.42h-2.5M394 794.85h-2.5M394 748.28h-2.5M394 701.7h-2.5M394 864.71h-2.5M394 818.14h-2.5M394 771.56h-2.5M394 724.99h-2.5" stroke="#000" stroke-width="1.1"/>
<text x="390.8" y="893.5" font-size="17" text-anchor="end" >−6</text>
<text x="390.8" y="846.92" font-size="17" text-anchor="end" >−4</text>
<text x="390.8" y="800.35" font-size="17" text-anchor="end" >−2</text>
<text x="390.8" y="753.78" font-size="17" text-anchor="end" >0</text>
<text x="390.8" y="707.2" font-size="17" text-anchor="end" >2</text>
<text x="415.48" y="904.5" font-size="17" text-anchor="middle" >−2</text>
<text x="460.23" y="904.5" font-size="17" text-anchor="middle" >0</text>
<text x="548.54" y="904.5" font-size="17" text-anchor="middle" >4</text>
<text x="636.85" y="904.5" font-size="17" text-anchor="middle" >8</text>
<text x="400.5" y="719.5" font-size="20" text-anchor="start" >ST, rw average</text>
<text x="348.9" y="706.4" font-size="17" text-anchor="start" >f)</text>
<text x="537.5" y="920.4" font-size="17" text-anchor="middle">log<tspan font-size="11.5" dy="4">10</tspan><tspan dy="-4">(</tspan><tspan font-style="italic" text-decoration="overline">V</tspan>/<tspan font-style="italic">V</tspan><tspan font-size="11.5" dy="3">*</tspan><tspan dy="-3">)</tspan></text>
<text transform="translate(370.5,794.85) rotate(-90)" font-size="18" text-anchor="middle">(<tspan font-style="italic" text-decoration="overline">τ</tspan> − <tspan font-style="italic">σf</tspan><tspan font-size="12" dx="0.5" dy="3.5">*</tspan><tspan font-size="12" dx="-3.5" dy="-11">w</tspan><tspan dx="0.5" dy="7.5">) / </tspan><tspan font-style="italic">a</tspan><tspan font-size="12" dy="-7.5">w</tspan><tspan font-style="italic" dy="7.5">σ</tspan></text>
<rect x="394" y="701.7" width="287" height="186.3" fill="none" stroke="#000" stroke-width="1.3"/>
</svg></body></html>
